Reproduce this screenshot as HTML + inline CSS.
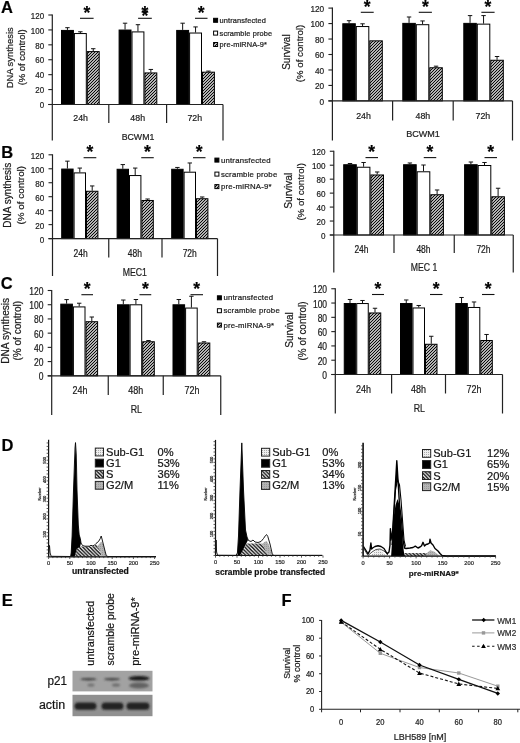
<!DOCTYPE html>
<html><head><meta charset="utf-8"><style>html,body{margin:0;padding:0;background:#fff;width:520px;height:743px;overflow:hidden} svg{filter:grayscale(1) blur(0.25px)} svg text{stroke:#222;stroke-width:0.22px}</style></head><body>
<svg width="520" height="743" viewBox="0 0 520 743" style="display:block;font-family:'Liberation Sans', sans-serif">
<defs>
<pattern id="hatch" patternUnits="userSpaceOnUse" width="3" height="3">
<rect width="3" height="3" fill="#fff"/>
<path d="M-1,1 L1,-1 M0,3 L3,0 M2,4 L4,2" stroke="#000" stroke-width="1.15"/>
</pattern>
<pattern id="hatch2" patternUnits="userSpaceOnUse" width="3.6" height="3.6">
<rect width="3.6" height="3.6" fill="#fff"/>
<path d="M-1,2.6 L1,4.6 M0,0 L3.6,3.6 M2.6,-1 L4.6,1" stroke="#000" stroke-width="1.35"/>
</pattern>
<pattern id="dots" patternUnits="userSpaceOnUse" width="2" height="2">
<rect width="2" height="2" fill="#eee"/>
<rect width="1" height="1" fill="#aaa"/>
</pattern>
<filter id="blur1" x="-20%" y="-50%" width="140%" height="200%"><feGaussianBlur stdDeviation="1.2"/></filter>
<filter id="blur2" x="-20%" y="-50%" width="140%" height="200%"><feGaussianBlur stdDeviation="0.6"/></filter>
</defs>
<rect x="0.00" y="0.00" width="520.00" height="743.00" fill="#fff"/>
<text x="1.00" y="12.90" font-size="16.5" text-anchor="start" font-weight="bold" fill="#000" >A</text>
<text x="1.20" y="158.00" font-size="16.5" text-anchor="start" font-weight="bold" fill="#000" >B</text>
<text x="0.80" y="288.80" font-size="16.5" text-anchor="start" font-weight="bold" fill="#000" >C</text>
<text x="1.50" y="451.00" font-size="16.5" text-anchor="start" font-weight="bold" fill="#000" >D</text>
<text x="1.80" y="606.30" font-size="16.5" text-anchor="start" font-weight="bold" fill="#000" >E</text>
<text x="281.50" y="606.40" font-size="16.5" text-anchor="start" font-weight="bold" fill="#000" >F</text>
<line x1="67.45" y1="29.92" x2="67.45" y2="27.68" stroke="#111" stroke-width="1" />
<line x1="65.25" y1="27.68" x2="69.65" y2="27.68" stroke="#111" stroke-width="1" />
<rect x="61.50" y="30.42" width="11.90" height="74.08" fill="#000" stroke="#000" stroke-width="1"/>
<line x1="80.35" y1="33.05" x2="80.35" y2="31.78" stroke="#111" stroke-width="1" />
<line x1="78.15" y1="31.78" x2="82.55" y2="31.78" stroke="#111" stroke-width="1" />
<rect x="74.40" y="33.55" width="11.90" height="70.95" fill="#fff" stroke="#000" stroke-width="1"/>
<line x1="93.25" y1="51.10" x2="93.25" y2="48.71" stroke="#111" stroke-width="1" />
<line x1="91.05" y1="48.71" x2="95.45" y2="48.71" stroke="#111" stroke-width="1" />
<rect x="87.30" y="51.60" width="11.90" height="52.90" fill="url(#hatch)" stroke="#000" stroke-width="1"/>
<line x1="80.00" y1="18.30" x2="93.60" y2="18.30" stroke="#111" stroke-width="1.1" />
<text x="86.80" y="18.60" font-size="17.5" text-anchor="middle" font-weight="bold" fill="#000" >*</text>
<line x1="125.05" y1="29.54" x2="125.05" y2="23.20" stroke="#111" stroke-width="1" />
<line x1="122.85" y1="23.20" x2="127.25" y2="23.20" stroke="#111" stroke-width="1" />
<rect x="119.10" y="30.04" width="11.90" height="74.46" fill="#000" stroke="#000" stroke-width="1"/>
<line x1="137.95" y1="31.41" x2="137.95" y2="24.70" stroke="#111" stroke-width="1" />
<line x1="135.75" y1="24.70" x2="140.15" y2="24.70" stroke="#111" stroke-width="1" />
<rect x="132.00" y="31.91" width="11.90" height="72.59" fill="#fff" stroke="#000" stroke-width="1"/>
<line x1="150.85" y1="72.43" x2="150.85" y2="69.45" stroke="#111" stroke-width="1" />
<line x1="148.65" y1="69.45" x2="153.05" y2="69.45" stroke="#111" stroke-width="1" />
<rect x="144.90" y="72.93" width="11.90" height="31.57" fill="url(#hatch)" stroke="#000" stroke-width="1"/>
<line x1="138.10" y1="18.30" x2="151.80" y2="18.30" stroke="#111" stroke-width="1.1" />
<text x="144.95" y="18.60" font-size="17.5" text-anchor="middle" font-weight="bold" fill="#000" >*</text>
<text x="144.95" y="21.50" font-size="17.5" text-anchor="middle" font-weight="bold" fill="#000" >*</text>
<line x1="182.65" y1="29.92" x2="182.65" y2="23.20" stroke="#111" stroke-width="1" />
<line x1="180.45" y1="23.20" x2="184.85" y2="23.20" stroke="#111" stroke-width="1" />
<rect x="176.70" y="30.42" width="11.90" height="74.08" fill="#000" stroke="#000" stroke-width="1"/>
<line x1="195.55" y1="32.53" x2="195.55" y2="26.93" stroke="#111" stroke-width="1" />
<line x1="193.35" y1="26.93" x2="197.75" y2="26.93" stroke="#111" stroke-width="1" />
<rect x="189.60" y="33.03" width="11.90" height="71.47" fill="#fff" stroke="#000" stroke-width="1"/>
<line x1="208.45" y1="71.68" x2="208.45" y2="71.09" stroke="#111" stroke-width="1" />
<line x1="206.25" y1="71.09" x2="210.65" y2="71.09" stroke="#111" stroke-width="1" />
<rect x="202.50" y="72.18" width="11.90" height="32.32" fill="url(#hatch)" stroke="#000" stroke-width="1"/>
<line x1="195.00" y1="18.30" x2="207.50" y2="18.30" stroke="#111" stroke-width="1.1" />
<text x="201.25" y="18.60" font-size="17.5" text-anchor="middle" font-weight="bold" fill="#000" >*</text>
<line x1="52.30" y1="14.50" x2="52.30" y2="140.50" stroke="#222" stroke-width="1.2" />
<line x1="48.30" y1="104.50" x2="223.00" y2="104.50" stroke="#222" stroke-width="1.2" />
<line x1="223.00" y1="104.50" x2="223.00" y2="140.50" stroke="#222" stroke-width="1.2" />
<line x1="108.80" y1="104.50" x2="108.80" y2="123.00" stroke="#222" stroke-width="1.2" />
<line x1="166.60" y1="104.50" x2="166.60" y2="123.00" stroke="#222" stroke-width="1.2" />
<line x1="48.30" y1="104.50" x2="52.30" y2="104.50" stroke="#222" stroke-width="1.1" />
<text x="44.10" y="108.20" font-size="9.2" text-anchor="end" font-weight="normal" fill="#1a1a1a"  textLength="4.43" lengthAdjust="spacingAndGlyphs">0</text>
<line x1="48.30" y1="89.58" x2="52.30" y2="89.58" stroke="#222" stroke-width="1.1" />
<text x="44.10" y="93.28" font-size="9.2" text-anchor="end" font-weight="normal" fill="#1a1a1a"  textLength="8.86" lengthAdjust="spacingAndGlyphs">20</text>
<line x1="48.30" y1="74.67" x2="52.30" y2="74.67" stroke="#222" stroke-width="1.1" />
<text x="44.10" y="78.37" font-size="9.2" text-anchor="end" font-weight="normal" fill="#1a1a1a"  textLength="8.86" lengthAdjust="spacingAndGlyphs">40</text>
<line x1="48.30" y1="59.75" x2="52.30" y2="59.75" stroke="#222" stroke-width="1.1" />
<text x="44.10" y="63.45" font-size="9.2" text-anchor="end" font-weight="normal" fill="#1a1a1a"  textLength="8.86" lengthAdjust="spacingAndGlyphs">60</text>
<line x1="48.30" y1="44.83" x2="52.30" y2="44.83" stroke="#222" stroke-width="1.1" />
<text x="44.10" y="48.53" font-size="9.2" text-anchor="end" font-weight="normal" fill="#1a1a1a"  textLength="8.86" lengthAdjust="spacingAndGlyphs">80</text>
<line x1="48.30" y1="29.92" x2="52.30" y2="29.92" stroke="#222" stroke-width="1.1" />
<text x="44.10" y="33.62" font-size="9.2" text-anchor="end" font-weight="normal" fill="#1a1a1a"  textLength="13.29" lengthAdjust="spacingAndGlyphs">100</text>
<line x1="48.30" y1="15.00" x2="52.30" y2="15.00" stroke="#222" stroke-width="1.1" />
<text x="44.10" y="18.70" font-size="9.2" text-anchor="end" font-weight="normal" fill="#1a1a1a"  textLength="13.29" lengthAdjust="spacingAndGlyphs">120</text>
<text x="80.60" y="121.20" font-size="9.4" text-anchor="middle" font-weight="normal" fill="#1a1a1a"  textLength="14.70" lengthAdjust="spacingAndGlyphs">24h</text>
<text x="137.70" y="121.20" font-size="9.4" text-anchor="middle" font-weight="normal" fill="#1a1a1a"  textLength="14.70" lengthAdjust="spacingAndGlyphs">48h</text>
<text x="194.80" y="121.20" font-size="9.4" text-anchor="middle" font-weight="normal" fill="#1a1a1a"  textLength="14.70" lengthAdjust="spacingAndGlyphs">72h</text>
<text x="138.00" y="140.00" font-size="9.6" text-anchor="middle" font-weight="normal" fill="#1a1a1a"  textLength="32.70" lengthAdjust="spacingAndGlyphs">BCWM1</text>
<text x="0.00" y="0.00" font-size="9.8" text-anchor="middle" font-weight="normal" fill="#1a1a1a" transform="translate(13.10,57.80) rotate(-90)" textLength="61.00" lengthAdjust="spacingAndGlyphs">DNA synthesis</text>
<text x="0.00" y="0.00" font-size="9.5" text-anchor="middle" font-weight="normal" fill="#1a1a1a" transform="translate(25.40,57.30) rotate(-90)" textLength="56.00" lengthAdjust="spacingAndGlyphs">(% of control)</text>
<line x1="349.05" y1="23.26" x2="349.05" y2="20.71" stroke="#111" stroke-width="1" />
<line x1="346.85" y1="20.71" x2="351.25" y2="20.71" stroke="#111" stroke-width="1" />
<rect x="342.80" y="23.76" width="12.50" height="77.14" fill="#000" stroke="#000" stroke-width="1"/>
<line x1="362.55" y1="26.04" x2="362.55" y2="23.80" stroke="#111" stroke-width="1" />
<line x1="360.35" y1="23.80" x2="364.75" y2="23.80" stroke="#111" stroke-width="1" />
<rect x="356.30" y="26.54" width="12.50" height="74.36" fill="#fff" stroke="#000" stroke-width="1"/>
<rect x="369.80" y="40.85" width="12.50" height="60.05" fill="url(#hatch)" stroke="#000" stroke-width="1"/>
<line x1="360.80" y1="12.30" x2="373.70" y2="12.30" stroke="#111" stroke-width="1.1" />
<text x="367.25" y="12.60" font-size="17.5" text-anchor="middle" font-weight="bold" fill="#000" >*</text>
<line x1="409.05" y1="22.87" x2="409.05" y2="16.99" stroke="#111" stroke-width="1" />
<line x1="406.85" y1="16.99" x2="411.25" y2="16.99" stroke="#111" stroke-width="1" />
<rect x="402.80" y="23.37" width="12.50" height="77.53" fill="#000" stroke="#000" stroke-width="1"/>
<line x1="422.55" y1="24.19" x2="422.55" y2="20.94" stroke="#111" stroke-width="1" />
<line x1="420.35" y1="20.94" x2="424.75" y2="20.94" stroke="#111" stroke-width="1" />
<rect x="416.30" y="24.69" width="12.50" height="76.21" fill="#fff" stroke="#000" stroke-width="1"/>
<line x1="436.05" y1="67.26" x2="436.05" y2="66.18" stroke="#111" stroke-width="1" />
<line x1="433.85" y1="66.18" x2="438.25" y2="66.18" stroke="#111" stroke-width="1" />
<rect x="429.80" y="67.76" width="12.50" height="33.14" fill="url(#hatch)" stroke="#000" stroke-width="1"/>
<line x1="418.75" y1="12.30" x2="431.90" y2="12.30" stroke="#111" stroke-width="1.1" />
<text x="425.32" y="12.60" font-size="17.5" text-anchor="middle" font-weight="bold" fill="#000" >*</text>
<line x1="470.05" y1="22.87" x2="470.05" y2="15.60" stroke="#111" stroke-width="1" />
<line x1="467.85" y1="15.60" x2="472.25" y2="15.60" stroke="#111" stroke-width="1" />
<rect x="463.80" y="23.37" width="12.50" height="77.53" fill="#000" stroke="#000" stroke-width="1"/>
<line x1="483.55" y1="23.64" x2="483.55" y2="15.60" stroke="#111" stroke-width="1" />
<line x1="481.35" y1="15.60" x2="485.75" y2="15.60" stroke="#111" stroke-width="1" />
<rect x="477.30" y="24.14" width="12.50" height="76.76" fill="#fff" stroke="#000" stroke-width="1"/>
<line x1="497.05" y1="59.76" x2="497.05" y2="56.51" stroke="#111" stroke-width="1" />
<line x1="494.85" y1="56.51" x2="499.25" y2="56.51" stroke="#111" stroke-width="1" />
<rect x="490.80" y="60.26" width="12.50" height="40.64" fill="url(#hatch)" stroke="#000" stroke-width="1"/>
<line x1="481.40" y1="12.30" x2="494.60" y2="12.30" stroke="#111" stroke-width="1.1" />
<text x="488.00" y="12.60" font-size="17.5" text-anchor="middle" font-weight="bold" fill="#000" >*</text>
<line x1="332.40" y1="7.60" x2="332.40" y2="140.50" stroke="#222" stroke-width="1.2" />
<line x1="328.40" y1="100.90" x2="512.50" y2="100.90" stroke="#222" stroke-width="1.2" />
<line x1="512.50" y1="100.90" x2="512.50" y2="140.50" stroke="#222" stroke-width="1.2" />
<line x1="392.60" y1="100.90" x2="392.60" y2="120.50" stroke="#222" stroke-width="1.2" />
<line x1="453.20" y1="100.90" x2="453.20" y2="120.50" stroke="#222" stroke-width="1.2" />
<line x1="328.40" y1="100.90" x2="332.40" y2="100.90" stroke="#222" stroke-width="1.1" />
<text x="324.20" y="104.80" font-size="9.4" text-anchor="end" font-weight="normal" fill="#1a1a1a"  textLength="4.60" lengthAdjust="spacingAndGlyphs">0</text>
<line x1="328.40" y1="85.43" x2="332.40" y2="85.43" stroke="#222" stroke-width="1.1" />
<text x="324.20" y="89.33" font-size="9.4" text-anchor="end" font-weight="normal" fill="#1a1a1a"  textLength="9.20" lengthAdjust="spacingAndGlyphs">20</text>
<line x1="328.40" y1="69.97" x2="332.40" y2="69.97" stroke="#222" stroke-width="1.1" />
<text x="324.20" y="73.87" font-size="9.4" text-anchor="end" font-weight="normal" fill="#1a1a1a"  textLength="9.20" lengthAdjust="spacingAndGlyphs">40</text>
<line x1="328.40" y1="54.50" x2="332.40" y2="54.50" stroke="#222" stroke-width="1.1" />
<text x="324.20" y="58.40" font-size="9.4" text-anchor="end" font-weight="normal" fill="#1a1a1a"  textLength="9.20" lengthAdjust="spacingAndGlyphs">60</text>
<line x1="328.40" y1="39.03" x2="332.40" y2="39.03" stroke="#222" stroke-width="1.1" />
<text x="324.20" y="42.93" font-size="9.4" text-anchor="end" font-weight="normal" fill="#1a1a1a"  textLength="9.20" lengthAdjust="spacingAndGlyphs">80</text>
<line x1="328.40" y1="23.57" x2="332.40" y2="23.57" stroke="#222" stroke-width="1.1" />
<text x="324.20" y="27.47" font-size="9.4" text-anchor="end" font-weight="normal" fill="#1a1a1a"  textLength="13.80" lengthAdjust="spacingAndGlyphs">100</text>
<line x1="328.40" y1="8.10" x2="332.40" y2="8.10" stroke="#222" stroke-width="1.1" />
<text x="324.20" y="12.00" font-size="9.4" text-anchor="end" font-weight="normal" fill="#1a1a1a"  textLength="13.80" lengthAdjust="spacingAndGlyphs">120</text>
<text x="363.50" y="119.30" font-size="9.4" text-anchor="middle" font-weight="normal" fill="#1a1a1a"  textLength="14.70" lengthAdjust="spacingAndGlyphs">24h</text>
<text x="422.90" y="119.30" font-size="9.4" text-anchor="middle" font-weight="normal" fill="#1a1a1a"  textLength="14.70" lengthAdjust="spacingAndGlyphs">48h</text>
<text x="482.90" y="119.30" font-size="9.4" text-anchor="middle" font-weight="normal" fill="#1a1a1a"  textLength="14.70" lengthAdjust="spacingAndGlyphs">72h</text>
<text x="423.00" y="137.00" font-size="9.6" text-anchor="middle" font-weight="normal" fill="#1a1a1a"  textLength="33.70" lengthAdjust="spacingAndGlyphs">BCWM1</text>
<text x="0.00" y="0.00" font-size="10" text-anchor="middle" font-weight="normal" fill="#1a1a1a" transform="translate(290.10,52.10) rotate(-90)" textLength="35.40" lengthAdjust="spacingAndGlyphs">Survival</text>
<text x="0.00" y="0.00" font-size="9.7" text-anchor="middle" font-weight="normal" fill="#1a1a1a" transform="translate(303.00,53.45) rotate(-90)" textLength="57.50" lengthAdjust="spacingAndGlyphs">(% of control)</text>
<line x1="67.40" y1="168.56" x2="67.40" y2="161.15" stroke="#111" stroke-width="1" />
<line x1="65.20" y1="161.15" x2="69.60" y2="161.15" stroke="#111" stroke-width="1" />
<rect x="61.70" y="169.06" width="11.40" height="69.54" fill="#000" stroke="#000" stroke-width="1"/>
<line x1="79.80" y1="172.40" x2="79.80" y2="168.07" stroke="#111" stroke-width="1" />
<line x1="77.60" y1="168.07" x2="82.00" y2="168.07" stroke="#111" stroke-width="1" />
<rect x="74.10" y="172.90" width="11.40" height="65.70" fill="#fff" stroke="#000" stroke-width="1"/>
<line x1="92.20" y1="190.76" x2="92.20" y2="185.95" stroke="#111" stroke-width="1" />
<line x1="90.00" y1="185.95" x2="94.40" y2="185.95" stroke="#111" stroke-width="1" />
<rect x="86.50" y="191.26" width="11.40" height="47.34" fill="url(#hatch)" stroke="#000" stroke-width="1"/>
<line x1="83.60" y1="157.70" x2="96.30" y2="157.70" stroke="#111" stroke-width="1.1" />
<text x="89.95" y="158.00" font-size="17.5" text-anchor="middle" font-weight="bold" fill="#000" >*</text>
<line x1="122.80" y1="168.77" x2="122.80" y2="164.58" stroke="#111" stroke-width="1" />
<line x1="120.60" y1="164.58" x2="125.00" y2="164.58" stroke="#111" stroke-width="1" />
<rect x="117.10" y="169.27" width="11.40" height="69.33" fill="#000" stroke="#000" stroke-width="1"/>
<line x1="135.20" y1="175.05" x2="135.20" y2="168.07" stroke="#111" stroke-width="1" />
<line x1="133.00" y1="168.07" x2="137.40" y2="168.07" stroke="#111" stroke-width="1" />
<rect x="129.50" y="175.55" width="11.40" height="63.05" fill="#fff" stroke="#000" stroke-width="1"/>
<line x1="147.60" y1="199.98" x2="147.60" y2="199.00" stroke="#111" stroke-width="1" />
<line x1="145.40" y1="199.00" x2="149.80" y2="199.00" stroke="#111" stroke-width="1" />
<rect x="141.90" y="200.48" width="11.40" height="38.12" fill="url(#hatch)" stroke="#000" stroke-width="1"/>
<line x1="141.25" y1="157.70" x2="153.75" y2="157.70" stroke="#111" stroke-width="1.1" />
<text x="147.50" y="158.00" font-size="17.5" text-anchor="middle" font-weight="bold" fill="#000" >*</text>
<line x1="177.40" y1="168.77" x2="177.40" y2="167.44" stroke="#111" stroke-width="1" />
<line x1="175.20" y1="167.44" x2="179.60" y2="167.44" stroke="#111" stroke-width="1" />
<rect x="171.70" y="169.27" width="11.40" height="69.33" fill="#000" stroke="#000" stroke-width="1"/>
<line x1="189.80" y1="171.70" x2="189.80" y2="162.97" stroke="#111" stroke-width="1" />
<line x1="187.60" y1="162.97" x2="192.00" y2="162.97" stroke="#111" stroke-width="1" />
<rect x="184.10" y="172.20" width="11.40" height="66.40" fill="#fff" stroke="#000" stroke-width="1"/>
<line x1="202.20" y1="198.24" x2="202.20" y2="196.98" stroke="#111" stroke-width="1" />
<line x1="200.00" y1="196.98" x2="204.40" y2="196.98" stroke="#111" stroke-width="1" />
<rect x="196.50" y="198.74" width="11.40" height="39.86" fill="url(#hatch)" stroke="#000" stroke-width="1"/>
<line x1="193.00" y1="157.70" x2="205.50" y2="157.70" stroke="#111" stroke-width="1.1" />
<text x="199.25" y="158.00" font-size="17.5" text-anchor="middle" font-weight="bold" fill="#000" >*</text>
<line x1="52.50" y1="154.30" x2="52.50" y2="276.00" stroke="#222" stroke-width="1.2" />
<line x1="48.50" y1="238.60" x2="217.50" y2="238.60" stroke="#222" stroke-width="1.2" />
<line x1="217.50" y1="238.60" x2="217.50" y2="276.00" stroke="#222" stroke-width="1.2" />
<line x1="108.75" y1="238.60" x2="108.75" y2="257.50" stroke="#222" stroke-width="1.2" />
<line x1="162.00" y1="238.60" x2="162.00" y2="257.50" stroke="#222" stroke-width="1.2" />
<line x1="48.50" y1="238.60" x2="52.50" y2="238.60" stroke="#222" stroke-width="1.1" />
<text x="44.30" y="242.80" font-size="9.6" text-anchor="end" font-weight="normal" fill="#1a1a1a"  textLength="4.50" lengthAdjust="spacingAndGlyphs">0</text>
<line x1="48.50" y1="224.63" x2="52.50" y2="224.63" stroke="#222" stroke-width="1.1" />
<text x="44.30" y="228.83" font-size="9.6" text-anchor="end" font-weight="normal" fill="#1a1a1a"  textLength="9.00" lengthAdjust="spacingAndGlyphs">20</text>
<line x1="48.50" y1="210.67" x2="52.50" y2="210.67" stroke="#222" stroke-width="1.1" />
<text x="44.30" y="214.87" font-size="9.6" text-anchor="end" font-weight="normal" fill="#1a1a1a"  textLength="9.00" lengthAdjust="spacingAndGlyphs">40</text>
<line x1="48.50" y1="196.70" x2="52.50" y2="196.70" stroke="#222" stroke-width="1.1" />
<text x="44.30" y="200.90" font-size="9.6" text-anchor="end" font-weight="normal" fill="#1a1a1a"  textLength="9.00" lengthAdjust="spacingAndGlyphs">60</text>
<line x1="48.50" y1="182.73" x2="52.50" y2="182.73" stroke="#222" stroke-width="1.1" />
<text x="44.30" y="186.93" font-size="9.6" text-anchor="end" font-weight="normal" fill="#1a1a1a"  textLength="9.00" lengthAdjust="spacingAndGlyphs">80</text>
<line x1="48.50" y1="168.77" x2="52.50" y2="168.77" stroke="#222" stroke-width="1.1" />
<text x="44.30" y="172.97" font-size="9.6" text-anchor="end" font-weight="normal" fill="#1a1a1a"  textLength="13.50" lengthAdjust="spacingAndGlyphs">100</text>
<line x1="48.50" y1="154.80" x2="52.50" y2="154.80" stroke="#222" stroke-width="1.1" />
<text x="44.30" y="159.00" font-size="9.6" text-anchor="end" font-weight="normal" fill="#1a1a1a"  textLength="13.50" lengthAdjust="spacingAndGlyphs">120</text>
<text x="80.60" y="257.00" font-size="10" text-anchor="middle" font-weight="normal" fill="#1a1a1a"  textLength="14.20" lengthAdjust="spacingAndGlyphs">24h</text>
<text x="134.80" y="257.00" font-size="10" text-anchor="middle" font-weight="normal" fill="#1a1a1a"  textLength="14.20" lengthAdjust="spacingAndGlyphs">48h</text>
<text x="189.75" y="257.00" font-size="10" text-anchor="middle" font-weight="normal" fill="#1a1a1a"  textLength="14.20" lengthAdjust="spacingAndGlyphs">72h</text>
<text x="134.80" y="276.00" font-size="10" text-anchor="middle" font-weight="normal" fill="#1a1a1a"  textLength="24.20" lengthAdjust="spacingAndGlyphs">MEC1</text>
<text x="0.00" y="0.00" font-size="10.2" text-anchor="middle" font-weight="normal" fill="#1a1a1a" transform="translate(11.30,195.20) rotate(-90)" textLength="65.00" lengthAdjust="spacingAndGlyphs">DNA synthesis</text>
<text x="0.00" y="0.00" font-size="9.9" text-anchor="middle" font-weight="normal" fill="#1a1a1a" transform="translate(23.70,195.20) rotate(-90)" textLength="58.60" lengthAdjust="spacingAndGlyphs">(% of control)</text>
<line x1="350.00" y1="164.23" x2="350.00" y2="163.53" stroke="#111" stroke-width="1" />
<line x1="347.80" y1="163.53" x2="352.20" y2="163.53" stroke="#111" stroke-width="1" />
<rect x="343.70" y="164.73" width="12.60" height="70.27" fill="#000" stroke="#000" stroke-width="1"/>
<line x1="363.60" y1="166.74" x2="363.60" y2="162.49" stroke="#111" stroke-width="1" />
<line x1="361.40" y1="162.49" x2="365.80" y2="162.49" stroke="#111" stroke-width="1" />
<rect x="357.30" y="167.24" width="12.60" height="67.76" fill="#fff" stroke="#000" stroke-width="1"/>
<line x1="377.20" y1="174.49" x2="377.20" y2="171.98" stroke="#111" stroke-width="1" />
<line x1="375.00" y1="171.98" x2="379.40" y2="171.98" stroke="#111" stroke-width="1" />
<rect x="370.90" y="174.99" width="12.60" height="60.01" fill="url(#hatch)" stroke="#000" stroke-width="1"/>
<line x1="365.50" y1="157.60" x2="378.00" y2="157.60" stroke="#111" stroke-width="1.1" />
<text x="371.75" y="157.90" font-size="17.5" text-anchor="middle" font-weight="bold" fill="#000" >*</text>
<line x1="409.90" y1="164.23" x2="409.90" y2="162.98" stroke="#111" stroke-width="1" />
<line x1="407.70" y1="162.98" x2="412.10" y2="162.98" stroke="#111" stroke-width="1" />
<rect x="403.60" y="164.73" width="12.60" height="70.27" fill="#000" stroke="#000" stroke-width="1"/>
<line x1="423.50" y1="171.28" x2="423.50" y2="165.00" stroke="#111" stroke-width="1" />
<line x1="421.30" y1="165.00" x2="425.70" y2="165.00" stroke="#111" stroke-width="1" />
<rect x="417.20" y="171.78" width="12.60" height="63.22" fill="#fff" stroke="#000" stroke-width="1"/>
<line x1="437.10" y1="194.24" x2="437.10" y2="189.98" stroke="#111" stroke-width="1" />
<line x1="434.90" y1="189.98" x2="439.30" y2="189.98" stroke="#111" stroke-width="1" />
<rect x="430.80" y="194.74" width="12.60" height="40.26" fill="url(#hatch)" stroke="#000" stroke-width="1"/>
<line x1="423.75" y1="157.60" x2="436.25" y2="157.60" stroke="#111" stroke-width="1.1" />
<text x="430.00" y="157.90" font-size="17.5" text-anchor="middle" font-weight="bold" fill="#000" >*</text>
<line x1="470.90" y1="164.23" x2="470.90" y2="162.00" stroke="#111" stroke-width="1" />
<line x1="468.70" y1="162.00" x2="473.10" y2="162.00" stroke="#111" stroke-width="1" />
<rect x="464.60" y="164.73" width="12.60" height="70.27" fill="#000" stroke="#000" stroke-width="1"/>
<line x1="484.50" y1="165.00" x2="484.50" y2="162.49" stroke="#111" stroke-width="1" />
<line x1="482.30" y1="162.49" x2="486.70" y2="162.49" stroke="#111" stroke-width="1" />
<rect x="478.20" y="165.50" width="12.60" height="69.50" fill="#fff" stroke="#000" stroke-width="1"/>
<line x1="498.10" y1="196.27" x2="498.10" y2="188.24" stroke="#111" stroke-width="1" />
<line x1="495.90" y1="188.24" x2="500.30" y2="188.24" stroke="#111" stroke-width="1" />
<rect x="491.80" y="196.77" width="12.60" height="38.23" fill="url(#hatch)" stroke="#000" stroke-width="1"/>
<line x1="484.50" y1="157.60" x2="497.00" y2="157.60" stroke="#111" stroke-width="1.1" />
<text x="490.75" y="157.90" font-size="17.5" text-anchor="middle" font-weight="bold" fill="#000" >*</text>
<line x1="333.80" y1="150.75" x2="333.80" y2="272.50" stroke="#222" stroke-width="1.2" />
<line x1="329.80" y1="235.00" x2="513.25" y2="235.00" stroke="#222" stroke-width="1.2" />
<line x1="513.25" y1="235.00" x2="513.25" y2="272.50" stroke="#222" stroke-width="1.2" />
<line x1="394.00" y1="235.00" x2="394.00" y2="253.00" stroke="#222" stroke-width="1.2" />
<line x1="454.25" y1="235.00" x2="454.25" y2="253.00" stroke="#222" stroke-width="1.2" />
<line x1="329.80" y1="235.00" x2="333.80" y2="235.00" stroke="#222" stroke-width="1.1" />
<text x="325.60" y="239.20" font-size="9.6" text-anchor="end" font-weight="normal" fill="#1a1a1a"  textLength="4.50" lengthAdjust="spacingAndGlyphs">0</text>
<line x1="329.80" y1="221.04" x2="333.80" y2="221.04" stroke="#222" stroke-width="1.1" />
<text x="325.60" y="225.24" font-size="9.6" text-anchor="end" font-weight="normal" fill="#1a1a1a"  textLength="9.00" lengthAdjust="spacingAndGlyphs">20</text>
<line x1="329.80" y1="207.08" x2="333.80" y2="207.08" stroke="#222" stroke-width="1.1" />
<text x="325.60" y="211.28" font-size="9.6" text-anchor="end" font-weight="normal" fill="#1a1a1a"  textLength="9.00" lengthAdjust="spacingAndGlyphs">40</text>
<line x1="329.80" y1="193.12" x2="333.80" y2="193.12" stroke="#222" stroke-width="1.1" />
<text x="325.60" y="197.32" font-size="9.6" text-anchor="end" font-weight="normal" fill="#1a1a1a"  textLength="9.00" lengthAdjust="spacingAndGlyphs">60</text>
<line x1="329.80" y1="179.17" x2="333.80" y2="179.17" stroke="#222" stroke-width="1.1" />
<text x="325.60" y="183.37" font-size="9.6" text-anchor="end" font-weight="normal" fill="#1a1a1a"  textLength="9.00" lengthAdjust="spacingAndGlyphs">80</text>
<line x1="329.80" y1="165.21" x2="333.80" y2="165.21" stroke="#222" stroke-width="1.1" />
<text x="325.60" y="169.41" font-size="9.6" text-anchor="end" font-weight="normal" fill="#1a1a1a"  textLength="13.50" lengthAdjust="spacingAndGlyphs">100</text>
<line x1="329.80" y1="151.25" x2="333.80" y2="151.25" stroke="#222" stroke-width="1.1" />
<text x="325.60" y="155.45" font-size="9.6" text-anchor="end" font-weight="normal" fill="#1a1a1a"  textLength="13.50" lengthAdjust="spacingAndGlyphs">120</text>
<text x="361.50" y="252.50" font-size="10" text-anchor="middle" font-weight="normal" fill="#1a1a1a"  textLength="14.20" lengthAdjust="spacingAndGlyphs">24h</text>
<text x="423.50" y="252.50" font-size="10" text-anchor="middle" font-weight="normal" fill="#1a1a1a"  textLength="14.20" lengthAdjust="spacingAndGlyphs">48h</text>
<text x="483.50" y="252.50" font-size="10" text-anchor="middle" font-weight="normal" fill="#1a1a1a"  textLength="14.20" lengthAdjust="spacingAndGlyphs">72h</text>
<text x="424.00" y="271.00" font-size="10" text-anchor="middle" font-weight="normal" fill="#1a1a1a"  textLength="26.50" lengthAdjust="spacingAndGlyphs">MEC 1</text>
<text x="0.00" y="0.00" font-size="10" text-anchor="middle" font-weight="normal" fill="#1a1a1a" transform="translate(291.70,190.75) rotate(-90)" textLength="36.00" lengthAdjust="spacingAndGlyphs">Survival</text>
<text x="0.00" y="0.00" font-size="9.9" text-anchor="middle" font-weight="normal" fill="#1a1a1a" transform="translate(304.20,191.85) rotate(-90)" textLength="57.50" lengthAdjust="spacingAndGlyphs">(% of control)</text>
<line x1="66.60" y1="303.65" x2="66.60" y2="299.60" stroke="#111" stroke-width="1" />
<line x1="64.40" y1="299.60" x2="68.80" y2="299.60" stroke="#111" stroke-width="1" />
<rect x="60.80" y="304.15" width="11.60" height="71.65" fill="#000" stroke="#000" stroke-width="1"/>
<line x1="79.20" y1="306.42" x2="79.20" y2="303.22" stroke="#111" stroke-width="1" />
<line x1="77.00" y1="303.22" x2="81.40" y2="303.22" stroke="#111" stroke-width="1" />
<rect x="73.40" y="306.92" width="11.60" height="68.88" fill="#fff" stroke="#000" stroke-width="1"/>
<line x1="91.80" y1="321.21" x2="91.80" y2="317.01" stroke="#111" stroke-width="1" />
<line x1="89.60" y1="317.01" x2="94.00" y2="317.01" stroke="#111" stroke-width="1" />
<rect x="86.00" y="321.71" width="11.60" height="54.09" fill="url(#hatch)" stroke="#000" stroke-width="1"/>
<line x1="81.40" y1="294.70" x2="93.00" y2="294.70" stroke="#111" stroke-width="1.1" />
<text x="87.20" y="295.00" font-size="17.5" text-anchor="middle" font-weight="bold" fill="#000" >*</text>
<line x1="123.30" y1="304.29" x2="123.30" y2="300.03" stroke="#111" stroke-width="1" />
<line x1="121.10" y1="300.03" x2="125.50" y2="300.03" stroke="#111" stroke-width="1" />
<rect x="117.50" y="304.79" width="11.60" height="71.01" fill="#000" stroke="#000" stroke-width="1"/>
<line x1="135.90" y1="304.29" x2="135.90" y2="299.53" stroke="#111" stroke-width="1" />
<line x1="133.70" y1="299.53" x2="138.10" y2="299.53" stroke="#111" stroke-width="1" />
<rect x="130.10" y="304.79" width="11.60" height="71.01" fill="#fff" stroke="#000" stroke-width="1"/>
<line x1="148.50" y1="341.25" x2="148.50" y2="340.54" stroke="#111" stroke-width="1" />
<line x1="146.30" y1="340.54" x2="150.70" y2="340.54" stroke="#111" stroke-width="1" />
<rect x="142.70" y="341.75" width="11.60" height="34.05" fill="url(#hatch)" stroke="#000" stroke-width="1"/>
<line x1="139.50" y1="294.70" x2="151.25" y2="294.70" stroke="#111" stroke-width="1.1" />
<text x="145.38" y="295.00" font-size="17.5" text-anchor="middle" font-weight="bold" fill="#000" >*</text>
<line x1="178.80" y1="304.29" x2="178.80" y2="299.53" stroke="#111" stroke-width="1" />
<line x1="176.60" y1="299.53" x2="181.00" y2="299.53" stroke="#111" stroke-width="1" />
<rect x="173.00" y="304.79" width="11.60" height="71.01" fill="#000" stroke="#000" stroke-width="1"/>
<line x1="191.40" y1="307.56" x2="191.40" y2="296.26" stroke="#111" stroke-width="1" />
<line x1="189.20" y1="296.26" x2="193.60" y2="296.26" stroke="#111" stroke-width="1" />
<rect x="185.60" y="308.06" width="11.60" height="67.74" fill="#fff" stroke="#000" stroke-width="1"/>
<line x1="204.00" y1="342.53" x2="204.00" y2="341.75" stroke="#111" stroke-width="1" />
<line x1="201.80" y1="341.75" x2="206.20" y2="341.75" stroke="#111" stroke-width="1" />
<rect x="198.20" y="343.03" width="11.60" height="32.77" fill="url(#hatch)" stroke="#000" stroke-width="1"/>
<line x1="190.50" y1="294.70" x2="203.00" y2="294.70" stroke="#111" stroke-width="1.1" />
<text x="196.75" y="295.00" font-size="17.5" text-anchor="middle" font-weight="bold" fill="#000" >*</text>
<line x1="51.70" y1="290.00" x2="51.70" y2="415.00" stroke="#222" stroke-width="1.2" />
<line x1="47.70" y1="375.80" x2="220.75" y2="375.80" stroke="#222" stroke-width="1.2" />
<line x1="220.75" y1="375.80" x2="220.75" y2="415.00" stroke="#222" stroke-width="1.2" />
<line x1="108.25" y1="375.80" x2="108.25" y2="395.00" stroke="#222" stroke-width="1.2" />
<line x1="163.25" y1="375.80" x2="163.25" y2="395.00" stroke="#222" stroke-width="1.2" />
<line x1="47.70" y1="375.80" x2="51.70" y2="375.80" stroke="#222" stroke-width="1.1" />
<text x="43.50" y="380.30" font-size="10.1" text-anchor="end" font-weight="normal" fill="#1a1a1a"  textLength="4.73" lengthAdjust="spacingAndGlyphs">0</text>
<line x1="47.70" y1="361.58" x2="51.70" y2="361.58" stroke="#222" stroke-width="1.1" />
<text x="43.50" y="366.08" font-size="10.1" text-anchor="end" font-weight="normal" fill="#1a1a1a"  textLength="9.46" lengthAdjust="spacingAndGlyphs">20</text>
<line x1="47.70" y1="347.37" x2="51.70" y2="347.37" stroke="#222" stroke-width="1.1" />
<text x="43.50" y="351.87" font-size="10.1" text-anchor="end" font-weight="normal" fill="#1a1a1a"  textLength="9.46" lengthAdjust="spacingAndGlyphs">40</text>
<line x1="47.70" y1="333.15" x2="51.70" y2="333.15" stroke="#222" stroke-width="1.1" />
<text x="43.50" y="337.65" font-size="10.1" text-anchor="end" font-weight="normal" fill="#1a1a1a"  textLength="9.46" lengthAdjust="spacingAndGlyphs">60</text>
<line x1="47.70" y1="318.93" x2="51.70" y2="318.93" stroke="#222" stroke-width="1.1" />
<text x="43.50" y="323.43" font-size="10.1" text-anchor="end" font-weight="normal" fill="#1a1a1a"  textLength="9.46" lengthAdjust="spacingAndGlyphs">80</text>
<line x1="47.70" y1="304.72" x2="51.70" y2="304.72" stroke="#222" stroke-width="1.1" />
<text x="43.50" y="309.22" font-size="10.1" text-anchor="end" font-weight="normal" fill="#1a1a1a"  textLength="14.19" lengthAdjust="spacingAndGlyphs">100</text>
<line x1="47.70" y1="290.50" x2="51.70" y2="290.50" stroke="#222" stroke-width="1.1" />
<text x="43.50" y="295.00" font-size="10.1" text-anchor="end" font-weight="normal" fill="#1a1a1a"  textLength="14.19" lengthAdjust="spacingAndGlyphs">120</text>
<text x="80.00" y="394.00" font-size="10.5" text-anchor="middle" font-weight="normal" fill="#1a1a1a"  textLength="15.00" lengthAdjust="spacingAndGlyphs">24h</text>
<text x="135.75" y="394.00" font-size="10.5" text-anchor="middle" font-weight="normal" fill="#1a1a1a"  textLength="15.00" lengthAdjust="spacingAndGlyphs">48h</text>
<text x="192.00" y="394.00" font-size="10.5" text-anchor="middle" font-weight="normal" fill="#1a1a1a"  textLength="15.00" lengthAdjust="spacingAndGlyphs">72h</text>
<text x="136.30" y="413.00" font-size="10.5" text-anchor="middle" font-weight="normal" fill="#1a1a1a"  textLength="11.30" lengthAdjust="spacingAndGlyphs">RL</text>
<text x="0.00" y="0.00" font-size="10.5" text-anchor="middle" font-weight="normal" fill="#1a1a1a" transform="translate(9.10,330.80) rotate(-90)" textLength="66.00" lengthAdjust="spacingAndGlyphs">DNA synthesis</text>
<text x="0.00" y="0.00" font-size="10" text-anchor="middle" font-weight="normal" fill="#1a1a1a" transform="translate(21.00,330.75) rotate(-90)" textLength="59.70" lengthAdjust="spacingAndGlyphs">(% of control)</text>
<line x1="350.00" y1="303.04" x2="350.00" y2="299.47" stroke="#111" stroke-width="1" />
<line x1="347.80" y1="299.47" x2="352.20" y2="299.47" stroke="#111" stroke-width="1" />
<rect x="344.25" y="303.54" width="11.50" height="70.96" fill="#000" stroke="#000" stroke-width="1"/>
<line x1="362.50" y1="303.04" x2="362.50" y2="300.47" stroke="#111" stroke-width="1" />
<line x1="360.30" y1="300.47" x2="364.70" y2="300.47" stroke="#111" stroke-width="1" />
<rect x="356.75" y="303.54" width="11.50" height="70.96" fill="#fff" stroke="#000" stroke-width="1"/>
<line x1="375.00" y1="312.47" x2="375.00" y2="308.26" stroke="#111" stroke-width="1" />
<line x1="372.80" y1="308.26" x2="377.20" y2="308.26" stroke="#111" stroke-width="1" />
<rect x="369.25" y="312.97" width="11.50" height="61.53" fill="url(#hatch)" stroke="#000" stroke-width="1"/>
<line x1="372.00" y1="294.50" x2="384.00" y2="294.50" stroke="#111" stroke-width="1.1" />
<text x="378.00" y="294.80" font-size="17.5" text-anchor="middle" font-weight="bold" fill="#000" >*</text>
<line x1="406.25" y1="303.04" x2="406.25" y2="299.97" stroke="#111" stroke-width="1" />
<line x1="404.05" y1="299.97" x2="408.45" y2="299.97" stroke="#111" stroke-width="1" />
<rect x="400.50" y="303.54" width="11.50" height="70.96" fill="#000" stroke="#000" stroke-width="1"/>
<line x1="418.75" y1="307.47" x2="418.75" y2="305.47" stroke="#111" stroke-width="1" />
<line x1="416.55" y1="305.47" x2="420.95" y2="305.47" stroke="#111" stroke-width="1" />
<rect x="413.00" y="307.97" width="11.50" height="66.53" fill="#fff" stroke="#000" stroke-width="1"/>
<line x1="431.25" y1="343.77" x2="431.25" y2="336.27" stroke="#111" stroke-width="1" />
<line x1="429.05" y1="336.27" x2="433.45" y2="336.27" stroke="#111" stroke-width="1" />
<rect x="425.50" y="344.27" width="11.50" height="30.23" fill="url(#hatch)" stroke="#000" stroke-width="1"/>
<line x1="430.00" y1="294.50" x2="442.50" y2="294.50" stroke="#111" stroke-width="1.1" />
<text x="436.25" y="294.80" font-size="17.5" text-anchor="middle" font-weight="bold" fill="#000" >*</text>
<line x1="461.55" y1="303.04" x2="461.55" y2="297.47" stroke="#111" stroke-width="1" />
<line x1="459.35" y1="297.47" x2="463.75" y2="297.47" stroke="#111" stroke-width="1" />
<rect x="455.80" y="303.54" width="11.50" height="70.96" fill="#000" stroke="#000" stroke-width="1"/>
<line x1="474.05" y1="306.97" x2="474.05" y2="301.97" stroke="#111" stroke-width="1" />
<line x1="471.85" y1="301.97" x2="476.25" y2="301.97" stroke="#111" stroke-width="1" />
<rect x="468.30" y="307.47" width="11.50" height="67.03" fill="#fff" stroke="#000" stroke-width="1"/>
<line x1="486.55" y1="339.99" x2="486.55" y2="334.48" stroke="#111" stroke-width="1" />
<line x1="484.35" y1="334.48" x2="488.75" y2="334.48" stroke="#111" stroke-width="1" />
<rect x="480.80" y="340.49" width="11.50" height="34.01" fill="url(#hatch)" stroke="#000" stroke-width="1"/>
<line x1="482.00" y1="294.50" x2="494.50" y2="294.50" stroke="#111" stroke-width="1.1" />
<text x="488.25" y="294.80" font-size="17.5" text-anchor="middle" font-weight="bold" fill="#000" >*</text>
<line x1="335.30" y1="288.25" x2="335.30" y2="413.50" stroke="#222" stroke-width="1.2" />
<line x1="331.30" y1="374.50" x2="502.50" y2="374.50" stroke="#222" stroke-width="1.2" />
<line x1="502.50" y1="374.50" x2="502.50" y2="413.50" stroke="#222" stroke-width="1.2" />
<line x1="391.60" y1="374.50" x2="391.60" y2="393.50" stroke="#222" stroke-width="1.2" />
<line x1="445.50" y1="374.50" x2="445.50" y2="393.50" stroke="#222" stroke-width="1.2" />
<line x1="331.30" y1="374.50" x2="335.30" y2="374.50" stroke="#222" stroke-width="1.1" />
<text x="327.10" y="379.00" font-size="10.1" text-anchor="end" font-weight="normal" fill="#1a1a1a"  textLength="4.73" lengthAdjust="spacingAndGlyphs">0</text>
<line x1="331.30" y1="360.21" x2="335.30" y2="360.21" stroke="#222" stroke-width="1.1" />
<text x="327.10" y="364.71" font-size="10.1" text-anchor="end" font-weight="normal" fill="#1a1a1a"  textLength="9.46" lengthAdjust="spacingAndGlyphs">20</text>
<line x1="331.30" y1="345.92" x2="335.30" y2="345.92" stroke="#222" stroke-width="1.1" />
<text x="327.10" y="350.42" font-size="10.1" text-anchor="end" font-weight="normal" fill="#1a1a1a"  textLength="9.46" lengthAdjust="spacingAndGlyphs">40</text>
<line x1="331.30" y1="331.62" x2="335.30" y2="331.62" stroke="#222" stroke-width="1.1" />
<text x="327.10" y="336.12" font-size="10.1" text-anchor="end" font-weight="normal" fill="#1a1a1a"  textLength="9.46" lengthAdjust="spacingAndGlyphs">60</text>
<line x1="331.30" y1="317.33" x2="335.30" y2="317.33" stroke="#222" stroke-width="1.1" />
<text x="327.10" y="321.83" font-size="10.1" text-anchor="end" font-weight="normal" fill="#1a1a1a"  textLength="9.46" lengthAdjust="spacingAndGlyphs">80</text>
<line x1="331.30" y1="303.04" x2="335.30" y2="303.04" stroke="#222" stroke-width="1.1" />
<text x="327.10" y="307.54" font-size="10.1" text-anchor="end" font-weight="normal" fill="#1a1a1a"  textLength="14.19" lengthAdjust="spacingAndGlyphs">100</text>
<line x1="331.30" y1="288.75" x2="335.30" y2="288.75" stroke="#222" stroke-width="1.1" />
<text x="327.10" y="293.25" font-size="10.1" text-anchor="end" font-weight="normal" fill="#1a1a1a"  textLength="14.19" lengthAdjust="spacingAndGlyphs">120</text>
<text x="363.50" y="392.70" font-size="10.5" text-anchor="middle" font-weight="normal" fill="#1a1a1a"  textLength="15.00" lengthAdjust="spacingAndGlyphs">24h</text>
<text x="418.50" y="392.70" font-size="10.5" text-anchor="middle" font-weight="normal" fill="#1a1a1a"  textLength="15.00" lengthAdjust="spacingAndGlyphs">48h</text>
<text x="474.00" y="392.70" font-size="10.5" text-anchor="middle" font-weight="normal" fill="#1a1a1a"  textLength="15.00" lengthAdjust="spacingAndGlyphs">72h</text>
<text x="419.35" y="412.30" font-size="10.5" text-anchor="middle" font-weight="normal" fill="#1a1a1a"  textLength="11.30" lengthAdjust="spacingAndGlyphs">RL</text>
<text x="0.00" y="0.00" font-size="10" text-anchor="middle" font-weight="normal" fill="#1a1a1a" transform="translate(292.70,330.00) rotate(-90)" textLength="35.50" lengthAdjust="spacingAndGlyphs">Survival</text>
<text x="0.00" y="0.00" font-size="10" text-anchor="middle" font-weight="normal" fill="#1a1a1a" transform="translate(305.70,331.00) rotate(-90)" textLength="59.00" lengthAdjust="spacingAndGlyphs">(% of control)</text>
<rect x="213.60" y="18.30" width="4.00" height="4.00" fill="#000" stroke="#000" stroke-width="1"/>
<text x="219.60" y="22.80" font-size="7.4" text-anchor="start" font-weight="normal" fill="#1a1a1a" letter-spacing="0.12" stroke="#1a1a1a" stroke-width="0.15">untransfected</text>
<rect x="213.60" y="31.10" width="4.00" height="4.00" fill="#fff" stroke="#000" stroke-width="1"/>
<text x="219.60" y="35.60" font-size="7.4" text-anchor="start" font-weight="normal" fill="#1a1a1a" letter-spacing="0.12" stroke="#1a1a1a" stroke-width="0.15">scramble probe</text>
<rect x="213.60" y="42.50" width="4.00" height="4.00" fill="url(#hatch)" stroke="#000" stroke-width="1"/>
<text x="219.60" y="47.00" font-size="7.4" text-anchor="start" font-weight="normal" fill="#1a1a1a" letter-spacing="0.12" stroke="#1a1a1a" stroke-width="0.15">pre-miRNA-9*</text>
<rect x="214.90" y="158.10" width="4.00" height="4.00" fill="#000" stroke="#000" stroke-width="1"/>
<text x="220.90" y="162.60" font-size="7.8" text-anchor="start" font-weight="normal" fill="#1a1a1a" letter-spacing="0.2" stroke="#1a1a1a" stroke-width="0.15">untransfected</text>
<rect x="214.90" y="172.10" width="4.00" height="4.00" fill="#fff" stroke="#000" stroke-width="1"/>
<text x="220.90" y="176.60" font-size="7.8" text-anchor="start" font-weight="normal" fill="#1a1a1a" letter-spacing="0.2" stroke="#1a1a1a" stroke-width="0.15">scramble probe</text>
<rect x="214.90" y="184.60" width="4.00" height="4.00" fill="url(#hatch)" stroke="#000" stroke-width="1"/>
<text x="220.90" y="189.10" font-size="7.8" text-anchor="start" font-weight="normal" fill="#1a1a1a" letter-spacing="0.2" stroke="#1a1a1a" stroke-width="0.15">pre-miRNA-9*</text>
<rect x="217.40" y="295.80" width="4.00" height="4.00" fill="#000" stroke="#000" stroke-width="1"/>
<text x="223.40" y="300.30" font-size="7.8" text-anchor="start" font-weight="normal" fill="#1a1a1a" letter-spacing="0.2" stroke="#1a1a1a" stroke-width="0.15">untransfected</text>
<rect x="217.40" y="308.70" width="4.00" height="4.00" fill="#fff" stroke="#000" stroke-width="1"/>
<text x="223.40" y="313.20" font-size="7.8" text-anchor="start" font-weight="normal" fill="#1a1a1a" letter-spacing="0.2" stroke="#1a1a1a" stroke-width="0.15">scramble probe</text>
<rect x="217.40" y="323.10" width="4.00" height="4.00" fill="url(#hatch)" stroke="#000" stroke-width="1"/>
<text x="223.40" y="327.60" font-size="7.8" text-anchor="start" font-weight="normal" fill="#1a1a1a" letter-spacing="0.2" stroke="#1a1a1a" stroke-width="0.15">pre-miRNA-9*</text>
<defs>
<pattern id="g2m" patternUnits="userSpaceOnUse" width="2" height="2">
<rect width="2" height="2" fill="#b4b4b4"/><rect width="1" height="1" fill="#9a9a9a"/>
</pattern></defs>
<polygon points="74.60,556.80 77.00,548.50 80.50,546.50 93.00,546.50 96.00,544.50 98.00,546.00 100.50,551.00 101.50,556.80" fill="url(#hatch2)" stroke="none"/>
<polygon points="97.00,547.00 99.50,543.50 101.50,541.50 103.00,544.00 104.50,549.00 106.30,556.80 101.50,556.80 100.50,551.00" fill="url(#g2m)" stroke="none"/>
<polygon points="70.90,556.80 72.10,536.00 73.50,490.00 75.50,442.60 77.00,490.00 78.30,525.00 79.20,535.00 80.30,538.50 81.00,543.00 80.00,547.00 77.00,548.50 74.60,556.80" fill="#000" stroke="none"/>
<polyline points="48.60,556.50 49.10,547.00 49.50,545.50 50.10,553.00 51.20,556.30 70.50,556.50 71.20,553.00 72.10,536.00 73.50,490.00 75.00,448.00 75.50,442.60 76.30,455.00 77.00,490.00 78.30,525.00 79.20,535.00 80.30,538.50 81.00,543.00 82.50,545.50 85.00,546.20 90.00,546.20 91.00,545.00 92.00,546.00 94.00,545.50 96.00,543.50 98.50,541.50 100.30,538.50 101.20,536.00 102.00,539.00 103.00,543.00 104.50,549.00 106.30,555.80 108.00,556.50 156.00,556.50" fill="none" stroke="#000" stroke-width="0.9" stroke-linejoin="round"/>
<line x1="48.60" y1="439.70" x2="48.60" y2="556.80" stroke="#111" stroke-width="1.2" />
<line x1="46.60" y1="556.80" x2="48.60" y2="556.80" stroke="#333" stroke-width="0.8" />
<line x1="46.60" y1="553.35" x2="48.60" y2="553.35" stroke="#333" stroke-width="0.8" />
<line x1="46.60" y1="549.90" x2="48.60" y2="549.90" stroke="#333" stroke-width="0.8" />
<line x1="46.60" y1="546.45" x2="48.60" y2="546.45" stroke="#333" stroke-width="0.8" />
<line x1="46.60" y1="543.00" x2="48.60" y2="543.00" stroke="#333" stroke-width="0.8" />
<line x1="46.60" y1="539.55" x2="48.60" y2="539.55" stroke="#333" stroke-width="0.8" />
<line x1="46.60" y1="536.10" x2="48.60" y2="536.10" stroke="#333" stroke-width="0.8" />
<line x1="46.60" y1="532.65" x2="48.60" y2="532.65" stroke="#333" stroke-width="0.8" />
<line x1="46.60" y1="529.20" x2="48.60" y2="529.20" stroke="#333" stroke-width="0.8" />
<line x1="46.60" y1="525.75" x2="48.60" y2="525.75" stroke="#333" stroke-width="0.8" />
<line x1="46.60" y1="522.30" x2="48.60" y2="522.30" stroke="#333" stroke-width="0.8" />
<line x1="46.60" y1="518.85" x2="48.60" y2="518.85" stroke="#333" stroke-width="0.8" />
<line x1="46.60" y1="515.40" x2="48.60" y2="515.40" stroke="#333" stroke-width="0.8" />
<line x1="46.60" y1="511.95" x2="48.60" y2="511.95" stroke="#333" stroke-width="0.8" />
<line x1="46.60" y1="508.50" x2="48.60" y2="508.50" stroke="#333" stroke-width="0.8" />
<line x1="46.60" y1="505.05" x2="48.60" y2="505.05" stroke="#333" stroke-width="0.8" />
<line x1="46.60" y1="501.60" x2="48.60" y2="501.60" stroke="#333" stroke-width="0.8" />
<line x1="46.60" y1="498.15" x2="48.60" y2="498.15" stroke="#333" stroke-width="0.8" />
<line x1="46.60" y1="494.70" x2="48.60" y2="494.70" stroke="#333" stroke-width="0.8" />
<line x1="46.60" y1="491.25" x2="48.60" y2="491.25" stroke="#333" stroke-width="0.8" />
<line x1="46.60" y1="487.80" x2="48.60" y2="487.80" stroke="#333" stroke-width="0.8" />
<line x1="46.60" y1="484.35" x2="48.60" y2="484.35" stroke="#333" stroke-width="0.8" />
<line x1="46.60" y1="480.90" x2="48.60" y2="480.90" stroke="#333" stroke-width="0.8" />
<line x1="46.60" y1="477.45" x2="48.60" y2="477.45" stroke="#333" stroke-width="0.8" />
<line x1="46.60" y1="474.00" x2="48.60" y2="474.00" stroke="#333" stroke-width="0.8" />
<line x1="46.60" y1="470.55" x2="48.60" y2="470.55" stroke="#333" stroke-width="0.8" />
<line x1="46.60" y1="467.10" x2="48.60" y2="467.10" stroke="#333" stroke-width="0.8" />
<line x1="46.60" y1="463.65" x2="48.60" y2="463.65" stroke="#333" stroke-width="0.8" />
<line x1="46.60" y1="460.20" x2="48.60" y2="460.20" stroke="#333" stroke-width="0.8" />
<line x1="46.60" y1="456.75" x2="48.60" y2="456.75" stroke="#333" stroke-width="0.8" />
<line x1="46.60" y1="453.30" x2="48.60" y2="453.30" stroke="#333" stroke-width="0.8" />
<line x1="46.60" y1="449.85" x2="48.60" y2="449.85" stroke="#333" stroke-width="0.8" />
<line x1="46.60" y1="446.40" x2="48.60" y2="446.40" stroke="#333" stroke-width="0.8" />
<line x1="46.60" y1="442.95" x2="48.60" y2="442.95" stroke="#333" stroke-width="0.8" />
<text x="0.00" y="0.00" font-size="4" text-anchor="middle" font-weight="normal" fill="#444" transform="translate(46.00,534.30) rotate(-90)">100</text>
<text x="0.00" y="0.00" font-size="4" text-anchor="middle" font-weight="normal" fill="#444" transform="translate(46.00,516.60) rotate(-90)">200</text>
<text x="0.00" y="0.00" font-size="4" text-anchor="middle" font-weight="normal" fill="#444" transform="translate(46.00,499.00) rotate(-90)">300</text>
<text x="0.00" y="0.00" font-size="4" text-anchor="middle" font-weight="normal" fill="#444" transform="translate(46.00,479.60) rotate(-90)">400</text>
<text x="0.00" y="0.00" font-size="4" text-anchor="middle" font-weight="normal" fill="#444" transform="translate(46.00,460.30) rotate(-90)">500</text>
<text x="0.00" y="0.00" font-size="3.6" text-anchor="middle" font-weight="normal" fill="#555" transform="translate(40.60,494.00) rotate(-90)">Number</text>
<line x1="48.60" y1="556.80" x2="156.00" y2="556.80" stroke="#111" stroke-width="1.2" />
<line x1="48.60" y1="556.80" x2="48.60" y2="559.00" stroke="#333" stroke-width="0.8" />
<line x1="52.84" y1="556.80" x2="52.84" y2="558.10" stroke="#333" stroke-width="0.8" />
<line x1="57.08" y1="556.80" x2="57.08" y2="558.10" stroke="#333" stroke-width="0.8" />
<line x1="61.32" y1="556.80" x2="61.32" y2="558.10" stroke="#333" stroke-width="0.8" />
<line x1="65.56" y1="556.80" x2="65.56" y2="558.10" stroke="#333" stroke-width="0.8" />
<line x1="69.80" y1="556.80" x2="69.80" y2="559.00" stroke="#333" stroke-width="0.8" />
<line x1="74.04" y1="556.80" x2="74.04" y2="558.10" stroke="#333" stroke-width="0.8" />
<line x1="78.28" y1="556.80" x2="78.28" y2="558.10" stroke="#333" stroke-width="0.8" />
<line x1="82.52" y1="556.80" x2="82.52" y2="558.10" stroke="#333" stroke-width="0.8" />
<line x1="86.76" y1="556.80" x2="86.76" y2="558.10" stroke="#333" stroke-width="0.8" />
<line x1="91.00" y1="556.80" x2="91.00" y2="559.00" stroke="#333" stroke-width="0.8" />
<line x1="95.24" y1="556.80" x2="95.24" y2="558.10" stroke="#333" stroke-width="0.8" />
<line x1="99.48" y1="556.80" x2="99.48" y2="558.10" stroke="#333" stroke-width="0.8" />
<line x1="103.72" y1="556.80" x2="103.72" y2="558.10" stroke="#333" stroke-width="0.8" />
<line x1="107.96" y1="556.80" x2="107.96" y2="558.10" stroke="#333" stroke-width="0.8" />
<line x1="112.20" y1="556.80" x2="112.20" y2="559.00" stroke="#333" stroke-width="0.8" />
<line x1="116.44" y1="556.80" x2="116.44" y2="558.10" stroke="#333" stroke-width="0.8" />
<line x1="120.68" y1="556.80" x2="120.68" y2="558.10" stroke="#333" stroke-width="0.8" />
<line x1="124.92" y1="556.80" x2="124.92" y2="558.10" stroke="#333" stroke-width="0.8" />
<line x1="129.16" y1="556.80" x2="129.16" y2="558.10" stroke="#333" stroke-width="0.8" />
<line x1="133.40" y1="556.80" x2="133.40" y2="559.00" stroke="#333" stroke-width="0.8" />
<line x1="137.64" y1="556.80" x2="137.64" y2="558.10" stroke="#333" stroke-width="0.8" />
<line x1="141.88" y1="556.80" x2="141.88" y2="558.10" stroke="#333" stroke-width="0.8" />
<line x1="146.12" y1="556.80" x2="146.12" y2="558.10" stroke="#333" stroke-width="0.8" />
<line x1="150.36" y1="556.80" x2="150.36" y2="558.10" stroke="#333" stroke-width="0.8" />
<line x1="154.60" y1="556.80" x2="154.60" y2="559.00" stroke="#333" stroke-width="0.8" />
<text x="48.60" y="565.40" font-size="5.7" text-anchor="middle" font-weight="normal" fill="#333" >0</text>
<text x="69.80" y="565.40" font-size="5.7" text-anchor="middle" font-weight="normal" fill="#333" >50</text>
<text x="91.00" y="565.40" font-size="5.7" text-anchor="middle" font-weight="normal" fill="#333" >100</text>
<text x="112.20" y="565.40" font-size="5.7" text-anchor="middle" font-weight="normal" fill="#333" >150</text>
<text x="133.40" y="565.40" font-size="5.7" text-anchor="middle" font-weight="normal" fill="#333" >200</text>
<text x="154.60" y="565.40" font-size="5.7" text-anchor="middle" font-weight="normal" fill="#333" >250</text>
<rect x="95.30" y="448.10" width="8.20" height="7.80" fill="url(#dots)" stroke="#222" stroke-width="1"/>
<text x="106.00" y="455.90" font-size="11.1" text-anchor="start" font-weight="normal" fill="#111" >Sub-G1</text>
<text x="157.50" y="455.90" font-size="11.1" text-anchor="start" font-weight="normal" fill="#111" >0%</text>
<rect x="95.30" y="459.20" width="8.20" height="7.80" fill="#000" stroke="#222" stroke-width="1"/>
<text x="106.00" y="467.00" font-size="11.1" text-anchor="start" font-weight="normal" fill="#111" >G1</text>
<text x="157.50" y="467.00" font-size="11.1" text-anchor="start" font-weight="normal" fill="#111" >53%</text>
<rect x="95.30" y="470.30" width="8.20" height="7.80" fill="url(#hatch2)" stroke="#222" stroke-width="1"/>
<text x="106.00" y="478.10" font-size="11.1" text-anchor="start" font-weight="normal" fill="#111" >S</text>
<text x="157.50" y="478.10" font-size="11.1" text-anchor="start" font-weight="normal" fill="#111" >36%</text>
<rect x="95.30" y="481.40" width="8.20" height="7.80" fill="url(#g2m)" stroke="#222" stroke-width="1"/>
<text x="106.00" y="489.20" font-size="11.1" text-anchor="start" font-weight="normal" fill="#111" >G2/M</text>
<text x="157.50" y="489.20" font-size="11.1" text-anchor="start" font-weight="normal" fill="#111" >11%</text>
<text x="100.40" y="574.30" font-size="8.6" text-anchor="middle" font-weight="bold" fill="#111" >untransfected</text>
<polygon points="240.00,555.50 246.50,543.60 262.00,543.60 268.50,555.50" fill="url(#hatch2)" stroke="none"/>
<polygon points="262.00,544.00 264.50,542.00 266.60,541.00 268.50,544.00 270.50,549.00 272.40,555.50 268.50,555.50" fill="url(#g2m)" stroke="none"/>
<polygon points="237.40,555.50 238.50,536.00 240.00,490.00 241.80,442.90 243.50,490.00 245.50,530.00 247.00,537.00 248.00,540.00 244.00,548.00 240.00,555.50" fill="#000" stroke="none"/>
<polyline points="215.50,555.20 216.10,540.00 216.60,552.00 217.50,555.20 236.00,555.30 237.40,553.00 238.50,536.00 240.00,490.00 241.80,442.90 243.50,490.00 245.50,530.00 247.00,537.00 248.50,540.50 251.00,541.50 253.00,540.00 255.00,542.00 258.00,542.50 261.00,541.50 263.50,538.50 265.50,535.50 266.60,534.60 267.80,536.50 270.00,544.00 272.40,554.50 274.00,555.30 322.30,555.30" fill="none" stroke="#000" stroke-width="0.9" stroke-linejoin="round"/>
<line x1="215.50" y1="439.90" x2="215.50" y2="555.50" stroke="#111" stroke-width="1.2" />
<line x1="213.50" y1="555.50" x2="215.50" y2="555.50" stroke="#333" stroke-width="0.8" />
<line x1="213.50" y1="552.05" x2="215.50" y2="552.05" stroke="#333" stroke-width="0.8" />
<line x1="213.50" y1="548.60" x2="215.50" y2="548.60" stroke="#333" stroke-width="0.8" />
<line x1="213.50" y1="545.15" x2="215.50" y2="545.15" stroke="#333" stroke-width="0.8" />
<line x1="213.50" y1="541.70" x2="215.50" y2="541.70" stroke="#333" stroke-width="0.8" />
<line x1="213.50" y1="538.25" x2="215.50" y2="538.25" stroke="#333" stroke-width="0.8" />
<line x1="213.50" y1="534.80" x2="215.50" y2="534.80" stroke="#333" stroke-width="0.8" />
<line x1="213.50" y1="531.35" x2="215.50" y2="531.35" stroke="#333" stroke-width="0.8" />
<line x1="213.50" y1="527.90" x2="215.50" y2="527.90" stroke="#333" stroke-width="0.8" />
<line x1="213.50" y1="524.45" x2="215.50" y2="524.45" stroke="#333" stroke-width="0.8" />
<line x1="213.50" y1="521.00" x2="215.50" y2="521.00" stroke="#333" stroke-width="0.8" />
<line x1="213.50" y1="517.55" x2="215.50" y2="517.55" stroke="#333" stroke-width="0.8" />
<line x1="213.50" y1="514.10" x2="215.50" y2="514.10" stroke="#333" stroke-width="0.8" />
<line x1="213.50" y1="510.65" x2="215.50" y2="510.65" stroke="#333" stroke-width="0.8" />
<line x1="213.50" y1="507.20" x2="215.50" y2="507.20" stroke="#333" stroke-width="0.8" />
<line x1="213.50" y1="503.75" x2="215.50" y2="503.75" stroke="#333" stroke-width="0.8" />
<line x1="213.50" y1="500.30" x2="215.50" y2="500.30" stroke="#333" stroke-width="0.8" />
<line x1="213.50" y1="496.85" x2="215.50" y2="496.85" stroke="#333" stroke-width="0.8" />
<line x1="213.50" y1="493.40" x2="215.50" y2="493.40" stroke="#333" stroke-width="0.8" />
<line x1="213.50" y1="489.95" x2="215.50" y2="489.95" stroke="#333" stroke-width="0.8" />
<line x1="213.50" y1="486.50" x2="215.50" y2="486.50" stroke="#333" stroke-width="0.8" />
<line x1="213.50" y1="483.05" x2="215.50" y2="483.05" stroke="#333" stroke-width="0.8" />
<line x1="213.50" y1="479.60" x2="215.50" y2="479.60" stroke="#333" stroke-width="0.8" />
<line x1="213.50" y1="476.15" x2="215.50" y2="476.15" stroke="#333" stroke-width="0.8" />
<line x1="213.50" y1="472.70" x2="215.50" y2="472.70" stroke="#333" stroke-width="0.8" />
<line x1="213.50" y1="469.25" x2="215.50" y2="469.25" stroke="#333" stroke-width="0.8" />
<line x1="213.50" y1="465.80" x2="215.50" y2="465.80" stroke="#333" stroke-width="0.8" />
<line x1="213.50" y1="462.35" x2="215.50" y2="462.35" stroke="#333" stroke-width="0.8" />
<line x1="213.50" y1="458.90" x2="215.50" y2="458.90" stroke="#333" stroke-width="0.8" />
<line x1="213.50" y1="455.45" x2="215.50" y2="455.45" stroke="#333" stroke-width="0.8" />
<line x1="213.50" y1="452.00" x2="215.50" y2="452.00" stroke="#333" stroke-width="0.8" />
<line x1="213.50" y1="448.55" x2="215.50" y2="448.55" stroke="#333" stroke-width="0.8" />
<line x1="213.50" y1="445.10" x2="215.50" y2="445.10" stroke="#333" stroke-width="0.8" />
<line x1="213.50" y1="441.65" x2="215.50" y2="441.65" stroke="#333" stroke-width="0.8" />
<text x="0.00" y="0.00" font-size="4" text-anchor="middle" font-weight="normal" fill="#444" transform="translate(212.90,534.00) rotate(-90)">100</text>
<text x="0.00" y="0.00" font-size="4" text-anchor="middle" font-weight="normal" fill="#444" transform="translate(212.90,516.00) rotate(-90)">200</text>
<text x="0.00" y="0.00" font-size="4" text-anchor="middle" font-weight="normal" fill="#444" transform="translate(212.90,498.00) rotate(-90)">300</text>
<text x="0.00" y="0.00" font-size="4" text-anchor="middle" font-weight="normal" fill="#444" transform="translate(212.90,479.00) rotate(-90)">400</text>
<text x="0.00" y="0.00" font-size="4" text-anchor="middle" font-weight="normal" fill="#444" transform="translate(212.90,460.00) rotate(-90)">500</text>
<text x="0.00" y="0.00" font-size="3.6" text-anchor="middle" font-weight="normal" fill="#555" transform="translate(207.20,494.00) rotate(-90)">Number</text>
<line x1="215.50" y1="555.50" x2="322.30" y2="555.50" stroke="#111" stroke-width="1.2" />
<line x1="215.50" y1="555.50" x2="215.50" y2="557.70" stroke="#333" stroke-width="0.8" />
<line x1="219.80" y1="555.50" x2="219.80" y2="556.80" stroke="#333" stroke-width="0.8" />
<line x1="224.10" y1="555.50" x2="224.10" y2="556.80" stroke="#333" stroke-width="0.8" />
<line x1="228.40" y1="555.50" x2="228.40" y2="556.80" stroke="#333" stroke-width="0.8" />
<line x1="232.70" y1="555.50" x2="232.70" y2="556.80" stroke="#333" stroke-width="0.8" />
<line x1="237.00" y1="555.50" x2="237.00" y2="557.70" stroke="#333" stroke-width="0.8" />
<line x1="241.30" y1="555.50" x2="241.30" y2="556.80" stroke="#333" stroke-width="0.8" />
<line x1="245.60" y1="555.50" x2="245.60" y2="556.80" stroke="#333" stroke-width="0.8" />
<line x1="249.90" y1="555.50" x2="249.90" y2="556.80" stroke="#333" stroke-width="0.8" />
<line x1="254.20" y1="555.50" x2="254.20" y2="556.80" stroke="#333" stroke-width="0.8" />
<line x1="258.50" y1="555.50" x2="258.50" y2="557.70" stroke="#333" stroke-width="0.8" />
<line x1="262.80" y1="555.50" x2="262.80" y2="556.80" stroke="#333" stroke-width="0.8" />
<line x1="267.10" y1="555.50" x2="267.10" y2="556.80" stroke="#333" stroke-width="0.8" />
<line x1="271.40" y1="555.50" x2="271.40" y2="556.80" stroke="#333" stroke-width="0.8" />
<line x1="275.70" y1="555.50" x2="275.70" y2="556.80" stroke="#333" stroke-width="0.8" />
<line x1="280.00" y1="555.50" x2="280.00" y2="557.70" stroke="#333" stroke-width="0.8" />
<line x1="284.30" y1="555.50" x2="284.30" y2="556.80" stroke="#333" stroke-width="0.8" />
<line x1="288.60" y1="555.50" x2="288.60" y2="556.80" stroke="#333" stroke-width="0.8" />
<line x1="292.90" y1="555.50" x2="292.90" y2="556.80" stroke="#333" stroke-width="0.8" />
<line x1="297.20" y1="555.50" x2="297.20" y2="556.80" stroke="#333" stroke-width="0.8" />
<line x1="301.50" y1="555.50" x2="301.50" y2="557.70" stroke="#333" stroke-width="0.8" />
<line x1="305.80" y1="555.50" x2="305.80" y2="556.80" stroke="#333" stroke-width="0.8" />
<line x1="310.10" y1="555.50" x2="310.10" y2="556.80" stroke="#333" stroke-width="0.8" />
<line x1="314.40" y1="555.50" x2="314.40" y2="556.80" stroke="#333" stroke-width="0.8" />
<line x1="318.70" y1="555.50" x2="318.70" y2="556.80" stroke="#333" stroke-width="0.8" />
<line x1="323.00" y1="555.50" x2="323.00" y2="557.70" stroke="#333" stroke-width="0.8" />
<text x="215.50" y="564.10" font-size="5.7" text-anchor="middle" font-weight="normal" fill="#333" >0</text>
<text x="237.00" y="564.10" font-size="5.7" text-anchor="middle" font-weight="normal" fill="#333" >50</text>
<text x="258.50" y="564.10" font-size="5.7" text-anchor="middle" font-weight="normal" fill="#333" >100</text>
<text x="280.00" y="564.10" font-size="5.7" text-anchor="middle" font-weight="normal" fill="#333" >150</text>
<text x="301.50" y="564.10" font-size="5.7" text-anchor="middle" font-weight="normal" fill="#333" >200</text>
<text x="323.00" y="564.10" font-size="5.7" text-anchor="middle" font-weight="normal" fill="#333" >250</text>
<rect x="261.50" y="448.30" width="8.20" height="7.80" fill="url(#dots)" stroke="#222" stroke-width="1"/>
<text x="272.20" y="456.10" font-size="11.1" text-anchor="start" font-weight="normal" fill="#111" >Sub-G1</text>
<text x="322.30" y="456.10" font-size="11.1" text-anchor="start" font-weight="normal" fill="#111" >0%</text>
<rect x="261.50" y="459.40" width="8.20" height="7.80" fill="#000" stroke="#222" stroke-width="1"/>
<text x="272.20" y="467.20" font-size="11.1" text-anchor="start" font-weight="normal" fill="#111" >G1</text>
<text x="322.30" y="467.20" font-size="11.1" text-anchor="start" font-weight="normal" fill="#111" >53%</text>
<rect x="261.50" y="470.50" width="8.20" height="7.80" fill="url(#hatch2)" stroke="#222" stroke-width="1"/>
<text x="272.20" y="478.30" font-size="11.1" text-anchor="start" font-weight="normal" fill="#111" >S</text>
<text x="322.30" y="478.30" font-size="11.1" text-anchor="start" font-weight="normal" fill="#111" >34%</text>
<rect x="261.50" y="481.60" width="8.20" height="7.80" fill="url(#g2m)" stroke="#222" stroke-width="1"/>
<text x="272.20" y="489.40" font-size="11.1" text-anchor="start" font-weight="normal" fill="#111" >G2/M</text>
<text x="322.30" y="489.40" font-size="11.1" text-anchor="start" font-weight="normal" fill="#111" >13%</text>
<text x="270.20" y="575.00" font-size="8.4" text-anchor="middle" font-weight="bold" fill="#111" >scramble probe transfected</text>
<polygon points="369.50,556.20 378.40,548.80 386.50,556.20" fill="url(#dots)" stroke="none"/>
<polygon points="398.30,556.20 399.50,552.90 427.50,552.90 428.50,556.20" fill="url(#hatch2)" stroke="none"/>
<polygon points="424.90,556.20 427.50,552.50 430.20,550.20 434.00,551.50 440.30,556.20" fill="url(#g2m)" stroke="none"/>
<polygon points="391.10,556.20 392.70,532.00 394.00,515.00 395.50,505.00 397.50,499.00 399.50,505.00 401.50,525.00 403.00,545.00 404.50,556.20" fill="#000" stroke="none"/>
<polygon points="394.60,498.00 396.80,460.70 398.30,482.00 397.50,480.00 395.50,490.00" fill="#000" stroke="none"/>
<polyline points="363.50,546.50 368.00,553.80 369.90,550.40 370.90,543.00 371.60,549.00 372.60,548.00 375.00,546.50 378.00,545.80 381.00,546.50 384.00,548.50 387.20,553.80 389.00,552.00 390.00,545.00 390.40,528.60 391.00,540.00 392.70,530.00 394.50,500.00 396.80,460.70 398.00,480.00 399.50,505.00 401.50,520.00 403.00,540.00 404.50,548.00 406.00,548.50 410.00,548.00 413.00,547.50 415.30,546.20 418.00,548.00 420.00,547.00 421.60,545.70 423.00,542.30 424.50,546.00 426.00,544.50 428.00,544.00 429.50,543.00 430.00,539.20 431.00,543.00 433.00,545.00 435.00,548.50 438.00,551.00 440.00,553.50 442.00,555.50 446.00,556.00 495.80,556.00" fill="none" stroke="#000" stroke-width="1.4" stroke-linejoin="round"/>
<line x1="363.10" y1="442.70" x2="363.10" y2="556.20" stroke="#111" stroke-width="1.6" />
<line x1="361.10" y1="556.20" x2="363.10" y2="556.20" stroke="#333" stroke-width="0.8" />
<line x1="361.10" y1="552.75" x2="363.10" y2="552.75" stroke="#333" stroke-width="0.8" />
<line x1="361.10" y1="549.30" x2="363.10" y2="549.30" stroke="#333" stroke-width="0.8" />
<line x1="361.10" y1="545.85" x2="363.10" y2="545.85" stroke="#333" stroke-width="0.8" />
<line x1="361.10" y1="542.40" x2="363.10" y2="542.40" stroke="#333" stroke-width="0.8" />
<line x1="361.10" y1="538.95" x2="363.10" y2="538.95" stroke="#333" stroke-width="0.8" />
<line x1="361.10" y1="535.50" x2="363.10" y2="535.50" stroke="#333" stroke-width="0.8" />
<line x1="361.10" y1="532.05" x2="363.10" y2="532.05" stroke="#333" stroke-width="0.8" />
<line x1="361.10" y1="528.60" x2="363.10" y2="528.60" stroke="#333" stroke-width="0.8" />
<line x1="361.10" y1="525.15" x2="363.10" y2="525.15" stroke="#333" stroke-width="0.8" />
<line x1="361.10" y1="521.70" x2="363.10" y2="521.70" stroke="#333" stroke-width="0.8" />
<line x1="361.10" y1="518.25" x2="363.10" y2="518.25" stroke="#333" stroke-width="0.8" />
<line x1="361.10" y1="514.80" x2="363.10" y2="514.80" stroke="#333" stroke-width="0.8" />
<line x1="361.10" y1="511.35" x2="363.10" y2="511.35" stroke="#333" stroke-width="0.8" />
<line x1="361.10" y1="507.90" x2="363.10" y2="507.90" stroke="#333" stroke-width="0.8" />
<line x1="361.10" y1="504.45" x2="363.10" y2="504.45" stroke="#333" stroke-width="0.8" />
<line x1="361.10" y1="501.00" x2="363.10" y2="501.00" stroke="#333" stroke-width="0.8" />
<line x1="361.10" y1="497.55" x2="363.10" y2="497.55" stroke="#333" stroke-width="0.8" />
<line x1="361.10" y1="494.10" x2="363.10" y2="494.10" stroke="#333" stroke-width="0.8" />
<line x1="361.10" y1="490.65" x2="363.10" y2="490.65" stroke="#333" stroke-width="0.8" />
<line x1="361.10" y1="487.20" x2="363.10" y2="487.20" stroke="#333" stroke-width="0.8" />
<line x1="361.10" y1="483.75" x2="363.10" y2="483.75" stroke="#333" stroke-width="0.8" />
<line x1="361.10" y1="480.30" x2="363.10" y2="480.30" stroke="#333" stroke-width="0.8" />
<line x1="361.10" y1="476.85" x2="363.10" y2="476.85" stroke="#333" stroke-width="0.8" />
<line x1="361.10" y1="473.40" x2="363.10" y2="473.40" stroke="#333" stroke-width="0.8" />
<line x1="361.10" y1="469.95" x2="363.10" y2="469.95" stroke="#333" stroke-width="0.8" />
<line x1="361.10" y1="466.50" x2="363.10" y2="466.50" stroke="#333" stroke-width="0.8" />
<line x1="361.10" y1="463.05" x2="363.10" y2="463.05" stroke="#333" stroke-width="0.8" />
<line x1="361.10" y1="459.60" x2="363.10" y2="459.60" stroke="#333" stroke-width="0.8" />
<line x1="361.10" y1="456.15" x2="363.10" y2="456.15" stroke="#333" stroke-width="0.8" />
<line x1="361.10" y1="452.70" x2="363.10" y2="452.70" stroke="#333" stroke-width="0.8" />
<line x1="361.10" y1="449.25" x2="363.10" y2="449.25" stroke="#333" stroke-width="0.8" />
<line x1="361.10" y1="445.80" x2="363.10" y2="445.80" stroke="#333" stroke-width="0.8" />
<text x="0.00" y="0.00" font-size="4" text-anchor="middle" font-weight="normal" fill="#444" transform="translate(360.50,534.00) rotate(-90)">50</text>
<text x="0.00" y="0.00" font-size="4" text-anchor="middle" font-weight="normal" fill="#444" transform="translate(360.50,511.00) rotate(-90)">100</text>
<text x="0.00" y="0.00" font-size="4" text-anchor="middle" font-weight="normal" fill="#444" transform="translate(360.50,488.00) rotate(-90)">150</text>
<text x="0.00" y="0.00" font-size="4" text-anchor="middle" font-weight="normal" fill="#444" transform="translate(360.50,465.00) rotate(-90)">200</text>
<text x="0.00" y="0.00" font-size="3.6" text-anchor="middle" font-weight="normal" fill="#555" transform="translate(355.50,494.00) rotate(-90)">Number</text>
<line x1="363.10" y1="556.20" x2="495.80" y2="556.20" stroke="#111" stroke-width="1.2" />
<line x1="363.10" y1="556.20" x2="363.10" y2="558.40" stroke="#333" stroke-width="0.8" />
<line x1="368.40" y1="556.20" x2="368.40" y2="557.50" stroke="#333" stroke-width="0.8" />
<line x1="373.70" y1="556.20" x2="373.70" y2="557.50" stroke="#333" stroke-width="0.8" />
<line x1="379.00" y1="556.20" x2="379.00" y2="557.50" stroke="#333" stroke-width="0.8" />
<line x1="384.30" y1="556.20" x2="384.30" y2="557.50" stroke="#333" stroke-width="0.8" />
<line x1="389.60" y1="556.20" x2="389.60" y2="558.40" stroke="#333" stroke-width="0.8" />
<line x1="394.90" y1="556.20" x2="394.90" y2="557.50" stroke="#333" stroke-width="0.8" />
<line x1="400.20" y1="556.20" x2="400.20" y2="557.50" stroke="#333" stroke-width="0.8" />
<line x1="405.50" y1="556.20" x2="405.50" y2="557.50" stroke="#333" stroke-width="0.8" />
<line x1="410.80" y1="556.20" x2="410.80" y2="557.50" stroke="#333" stroke-width="0.8" />
<line x1="416.10" y1="556.20" x2="416.10" y2="558.40" stroke="#333" stroke-width="0.8" />
<line x1="421.40" y1="556.20" x2="421.40" y2="557.50" stroke="#333" stroke-width="0.8" />
<line x1="426.70" y1="556.20" x2="426.70" y2="557.50" stroke="#333" stroke-width="0.8" />
<line x1="432.00" y1="556.20" x2="432.00" y2="557.50" stroke="#333" stroke-width="0.8" />
<line x1="437.30" y1="556.20" x2="437.30" y2="557.50" stroke="#333" stroke-width="0.8" />
<line x1="442.60" y1="556.20" x2="442.60" y2="558.40" stroke="#333" stroke-width="0.8" />
<line x1="447.90" y1="556.20" x2="447.90" y2="557.50" stroke="#333" stroke-width="0.8" />
<line x1="453.20" y1="556.20" x2="453.20" y2="557.50" stroke="#333" stroke-width="0.8" />
<line x1="458.50" y1="556.20" x2="458.50" y2="557.50" stroke="#333" stroke-width="0.8" />
<line x1="463.80" y1="556.20" x2="463.80" y2="557.50" stroke="#333" stroke-width="0.8" />
<line x1="469.10" y1="556.20" x2="469.10" y2="558.40" stroke="#333" stroke-width="0.8" />
<line x1="474.40" y1="556.20" x2="474.40" y2="557.50" stroke="#333" stroke-width="0.8" />
<line x1="479.70" y1="556.20" x2="479.70" y2="557.50" stroke="#333" stroke-width="0.8" />
<line x1="485.00" y1="556.20" x2="485.00" y2="557.50" stroke="#333" stroke-width="0.8" />
<line x1="490.30" y1="556.20" x2="490.30" y2="557.50" stroke="#333" stroke-width="0.8" />
<line x1="495.60" y1="556.20" x2="495.60" y2="558.40" stroke="#333" stroke-width="0.8" />
<text x="363.10" y="564.80" font-size="5.7" text-anchor="middle" font-weight="normal" fill="#333" >0</text>
<text x="389.60" y="564.80" font-size="5.7" text-anchor="middle" font-weight="normal" fill="#333" >50</text>
<text x="416.10" y="564.80" font-size="5.7" text-anchor="middle" font-weight="normal" fill="#333" >100</text>
<text x="442.60" y="564.80" font-size="5.7" text-anchor="middle" font-weight="normal" fill="#333" >150</text>
<text x="469.10" y="564.80" font-size="5.7" text-anchor="middle" font-weight="normal" fill="#333" >200</text>
<text x="495.60" y="564.80" font-size="5.7" text-anchor="middle" font-weight="normal" fill="#333" >250</text>
<rect x="422.50" y="449.50" width="8.20" height="7.80" fill="url(#dots)" stroke="#222" stroke-width="1"/>
<text x="433.20" y="457.30" font-size="11.1" text-anchor="start" font-weight="normal" fill="#111" >Sub-G1</text>
<text x="487.10" y="457.30" font-size="11.1" text-anchor="start" font-weight="normal" fill="#111" >12%</text>
<rect x="422.50" y="460.60" width="8.20" height="7.80" fill="#000" stroke="#222" stroke-width="1"/>
<text x="433.20" y="468.40" font-size="11.1" text-anchor="start" font-weight="normal" fill="#111" >G1</text>
<text x="487.10" y="468.40" font-size="11.1" text-anchor="start" font-weight="normal" fill="#111" >65%</text>
<rect x="422.50" y="471.70" width="8.20" height="7.80" fill="url(#hatch2)" stroke="#222" stroke-width="1"/>
<text x="433.20" y="479.50" font-size="11.1" text-anchor="start" font-weight="normal" fill="#111" >S</text>
<text x="487.10" y="479.50" font-size="11.1" text-anchor="start" font-weight="normal" fill="#111" >20%</text>
<rect x="422.50" y="482.80" width="8.20" height="7.80" fill="url(#g2m)" stroke="#222" stroke-width="1"/>
<text x="433.20" y="490.60" font-size="11.1" text-anchor="start" font-weight="normal" fill="#111" >G2/M</text>
<text x="487.10" y="490.60" font-size="11.1" text-anchor="start" font-weight="normal" fill="#111" >15%</text>
<text x="433.80" y="576.20" font-size="8.1" text-anchor="middle" font-weight="bold" fill="#111" >pre-miRNA9*</text>
<polyline points="392,545 393.5,520 395.5,490 397.5,479.7 399.5,485 401,500 402.5,520 404,540 405.5,546.5" fill="none" stroke="#000" stroke-width="1.1"/>
<polyline points="364,549 368,555.5 372,552 376,549.5 380,549 384,551 388,555" fill="none" stroke="#222" stroke-width="0.8"/>
<defs>
<filter id="noise" x="0" y="0" width="100%" height="100%">
<feTurbulence type="fractalNoise" baseFrequency="0.35" numOctaves="2" seed="3" result="n"/>
<feColorMatrix type="matrix" values="0 0 0 0 0.55  0 0 0 0 0.55  0 0 0 0 0.55  0.35 0.35 0.35 0 -0.25"/>
<feComposite in2="SourceGraphic" operator="in"/>
</filter>
</defs>
<rect x="72.50" y="670.80" width="80.00" height="20.60" fill="#a2a2a2"/>
<rect x="72.50" y="694.80" width="80.00" height="21.40" fill="#909090"/>
<g filter="url(#blur1)">
<ellipse cx="88.5" cy="679.2" rx="8" ry="1.3" fill="#404040"/>
<ellipse cx="112" cy="679.2" rx="8" ry="1.3" fill="#404040"/>
<ellipse cx="139" cy="678.3" rx="10.5" ry="2.3" fill="#151515"/>
<ellipse cx="139" cy="685.5" rx="10" ry="3" fill="#626262"/>
<ellipse cx="91" cy="685" rx="3.5" ry="1.5" fill="#707070"/>
<ellipse cx="116" cy="685" rx="4" ry="1.5" fill="#6a6a6a"/>
</g>
<g filter="url(#blur1)">
<rect x="74.5" y="702.6" width="22" height="7.2" rx="3.6" fill="#202020"/>
<rect x="101.5" y="702.6" width="22" height="7.2" rx="3.6" fill="#202020"/>
<rect x="126.5" y="702.6" width="23" height="7.2" rx="3.6" fill="#202020"/>
</g>
<text x="0.00" y="0.00" font-size="10.6" text-anchor="start" font-weight="normal" fill="#111" transform="translate(93.50,665.80) rotate(-90)" textLength="65.00" lengthAdjust="spacingAndGlyphs">untransfected</text>
<text x="0.00" y="0.00" font-size="10.6" text-anchor="start" font-weight="normal" fill="#111" transform="translate(113.60,665.40) rotate(-90)" textLength="72.30" lengthAdjust="spacingAndGlyphs">scramble probe</text>
<text x="0.00" y="0.00" font-size="10.6" text-anchor="start" font-weight="normal" fill="#111" transform="translate(139.30,665.80) rotate(-90)" textLength="68.60" lengthAdjust="spacingAndGlyphs">pre-miRNA-9*</text>
<text x="67.00" y="684.50" font-size="12.3" text-anchor="end" font-weight="normal" fill="#111"  textLength="19.50" lengthAdjust="spacingAndGlyphs">p21</text>
<text x="65.20" y="708.70" font-size="12.3" text-anchor="end" font-weight="normal" fill="#111"  textLength="26.30" lengthAdjust="spacingAndGlyphs">actin</text>
<line x1="321.60" y1="620.00" x2="321.60" y2="709.30" stroke="#222" stroke-width="1.1" />
<line x1="321.60" y1="709.30" x2="520.00" y2="709.30" stroke="#222" stroke-width="1.1" />
<line x1="319.10" y1="709.30" x2="321.60" y2="709.30" stroke="#222" stroke-width="1" />
<text x="314.30" y="712.20" font-size="8.2" text-anchor="end" font-weight="normal" fill="#222"  textLength="4.20" lengthAdjust="spacingAndGlyphs">0</text>
<line x1="319.10" y1="691.52" x2="321.60" y2="691.52" stroke="#222" stroke-width="1" />
<text x="314.30" y="694.42" font-size="8.2" text-anchor="end" font-weight="normal" fill="#222"  textLength="8.40" lengthAdjust="spacingAndGlyphs">20</text>
<line x1="319.10" y1="673.74" x2="321.60" y2="673.74" stroke="#222" stroke-width="1" />
<text x="314.30" y="676.64" font-size="8.2" text-anchor="end" font-weight="normal" fill="#222"  textLength="8.40" lengthAdjust="spacingAndGlyphs">40</text>
<line x1="319.10" y1="655.96" x2="321.60" y2="655.96" stroke="#222" stroke-width="1" />
<text x="314.30" y="658.86" font-size="8.2" text-anchor="end" font-weight="normal" fill="#222"  textLength="8.40" lengthAdjust="spacingAndGlyphs">60</text>
<line x1="319.10" y1="638.18" x2="321.60" y2="638.18" stroke="#222" stroke-width="1" />
<text x="314.30" y="641.08" font-size="8.2" text-anchor="end" font-weight="normal" fill="#222"  textLength="8.40" lengthAdjust="spacingAndGlyphs">80</text>
<line x1="319.10" y1="620.40" x2="321.60" y2="620.40" stroke="#222" stroke-width="1" />
<text x="314.30" y="623.30" font-size="8.2" text-anchor="end" font-weight="normal" fill="#222"  textLength="12.60" lengthAdjust="spacingAndGlyphs">100</text>
<line x1="321.60" y1="709.30" x2="321.60" y2="712.30" stroke="#222" stroke-width="1" />
<line x1="360.50" y1="709.30" x2="360.50" y2="712.30" stroke="#222" stroke-width="1" />
<line x1="400.00" y1="709.30" x2="400.00" y2="712.30" stroke="#222" stroke-width="1" />
<line x1="439.30" y1="709.30" x2="439.30" y2="712.30" stroke="#222" stroke-width="1" />
<line x1="478.60" y1="709.30" x2="478.60" y2="712.30" stroke="#222" stroke-width="1" />
<line x1="517.80" y1="709.30" x2="517.80" y2="712.30" stroke="#222" stroke-width="1" />
<text x="341.20" y="725.00" font-size="8.2" text-anchor="middle" font-weight="normal" fill="#222"  textLength="4.20" lengthAdjust="spacingAndGlyphs">0</text>
<text x="380.30" y="725.00" font-size="8.2" text-anchor="middle" font-weight="normal" fill="#222"  textLength="8.40" lengthAdjust="spacingAndGlyphs">20</text>
<text x="419.50" y="725.00" font-size="8.2" text-anchor="middle" font-weight="normal" fill="#222"  textLength="8.40" lengthAdjust="spacingAndGlyphs">40</text>
<text x="458.80" y="725.00" font-size="8.2" text-anchor="middle" font-weight="normal" fill="#222"  textLength="8.40" lengthAdjust="spacingAndGlyphs">60</text>
<text x="497.80" y="725.00" font-size="8.2" text-anchor="middle" font-weight="normal" fill="#222"  textLength="8.40" lengthAdjust="spacingAndGlyphs">80</text>
<text x="420.00" y="740.00" font-size="9.6" text-anchor="middle" font-weight="normal" fill="#222"  textLength="52.50" lengthAdjust="spacingAndGlyphs">LBH589 [nM]</text>
<text x="0.00" y="0.00" font-size="8.8" text-anchor="middle" font-weight="normal" fill="#222" transform="translate(289.5,663.3) rotate(-90)" textLength="31.00" lengthAdjust="spacingAndGlyphs">Survival</text>
<text x="0.00" y="0.00" font-size="9.1" text-anchor="middle" font-weight="normal" fill="#222" transform="translate(299.7,663.7) rotate(-90)" textLength="37.80" lengthAdjust="spacingAndGlyphs">% control</text>
<polyline points="341.20,622.18 380.30,653.29 419.50,667.52 458.80,673.03 497.80,686.19" fill="none" stroke="#999" stroke-width="1"/>
<polyline points="341.20,621.73 380.30,649.29 419.50,673.03 458.80,683.96 497.80,688.41" fill="none" stroke="#111" stroke-width="1.1" stroke-dasharray="3,2"/>
<polyline points="341.20,620.40 380.30,642.00 419.50,665.03 458.80,679.34 497.80,693.48" fill="none" stroke="#111" stroke-width="1.3"/>
<rect x="339.50" y="620.48" width="3.40" height="3.40" fill="#999"/>
<rect x="378.60" y="651.59" width="3.40" height="3.40" fill="#999"/>
<rect x="417.80" y="665.82" width="3.40" height="3.40" fill="#999"/>
<rect x="457.10" y="671.33" width="3.40" height="3.40" fill="#999"/>
<rect x="496.10" y="684.49" width="3.40" height="3.40" fill="#999"/>
<polygon points="341.2,619.3335 343.59999999999997,623.6534999999999 338.8,623.6534999999999" fill="#000"/>
<polygon points="380.3,646.8925 382.7,651.2125 377.90000000000003,651.2125" fill="#000"/>
<polygon points="419.5,670.6288 421.9,674.9487999999999 417.1,674.9487999999999" fill="#000"/>
<polygon points="458.8,681.5635 461.2,685.8834999999999 456.40000000000003,685.8834999999999" fill="#000"/>
<polygon points="497.8,686.0085 500.2,690.3285 495.40000000000003,690.3285" fill="#000"/>
<polygon points="341.2,618.1999999999999 343.4,620.4 341.2,622.6 339.0,620.4" fill="#000"/>
<polygon points="380.3,639.8027 382.5,642.0027 380.3,644.2027 378.1,642.0027" fill="#000"/>
<polygon points="419.5,662.8277999999999 421.7,665.0278 419.5,667.2278 417.3,665.0278" fill="#000"/>
<polygon points="458.8,677.1406999999999 461.0,679.3407 458.8,681.5407 456.6,679.3407" fill="#000"/>
<polygon points="497.8,691.2757999999999 500.0,693.4757999999999 497.8,695.6758 495.6,693.4757999999999" fill="#000"/>
<line x1="472.10" y1="620.00" x2="494.40" y2="620.00" stroke="#111" stroke-width="1.3" />
<polygon points="483.7,617.8 485.9,620 483.7,622.2 481.5,620" fill="#000"/>
<line x1="472.10" y1="632.90" x2="494.40" y2="632.90" stroke="#999" stroke-width="1" />
<rect x="481.80" y="631.20" width="3.40" height="3.40" fill="#999"/>
<line x1="472.10" y1="646.20" x2="494.40" y2="646.20" stroke="#111" stroke-width="1.1" stroke-dasharray="2.5,2.5"/>
<polygon points="483.5,643.8000000000001 485.9,648.12 481.1,648.12" fill="#000"/>
<text x="497.20" y="623.50" font-size="9" text-anchor="start" font-weight="normal" fill="#333" textLength="19" lengthAdjust="spacingAndGlyphs">WM1</text>
<text x="497.20" y="636.40" font-size="9" text-anchor="start" font-weight="normal" fill="#333" textLength="19" lengthAdjust="spacingAndGlyphs">WM2</text>
<text x="497.20" y="649.80" font-size="9" text-anchor="start" font-weight="normal" fill="#333" textLength="19" lengthAdjust="spacingAndGlyphs">WM3</text>
</svg>
</body></html>
